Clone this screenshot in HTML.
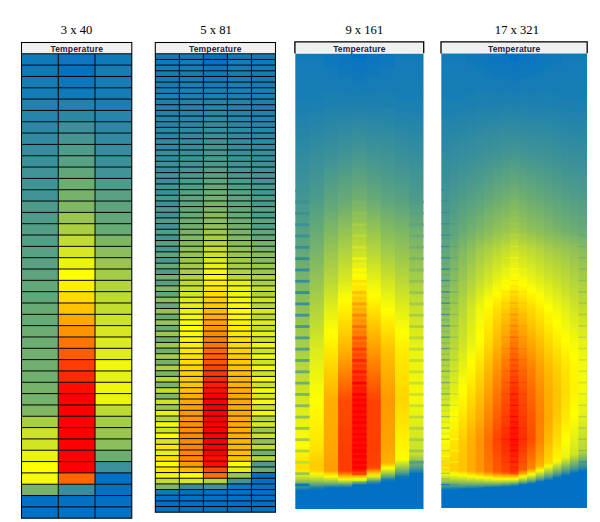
<!DOCTYPE html>
<html><head><meta charset="utf-8"><title>Heatmap grids</title><style>
html,body{margin:0;padding:0;background:#fff;width:600px;height:522px;overflow:hidden}
svg{position:absolute;left:0;top:0}
.h{font-family:"Liberation Sans",sans-serif;font-weight:bold;font-size:8.5px;letter-spacing:0.15px;fill:#23233a;text-anchor:middle}
.t{font-family:"Liberation Serif",serif;font-size:12.6px;fill:#000;stroke:#000;stroke-width:0.04px;text-anchor:middle}
</style></head><body>
<svg width="600" height="522" viewBox="0 0 600 522">
<defs><filter id="bl" x="-2%" y="-2%" width="104%" height="104%"><feGaussianBlur stdDeviation="0.3"/></filter><linearGradient id="g3_0" x1="0" y1="0" x2="0" y2="1"><stop offset="0.0031" stop-color="#117ab9"/><stop offset="0.1087" stop-color="#1a7eb2"/><stop offset="0.2950" stop-color="#3e9396"/><stop offset="0.3944" stop-color="#58a182"/><stop offset="0.4503" stop-color="#69ab74"/><stop offset="0.5373" stop-color="#89bd5c"/><stop offset="0.6615" stop-color="#add140"/><stop offset="0.8602" stop-color="#fffe00"/><stop offset="0.9037" stop-color="#ffe000"/><stop offset="0.9099" stop-color="#ffe000"/><stop offset="0.9161" stop-color="#ffe800"/><stop offset="0.9224" stop-color="#f4f909"/><stop offset="0.9348" stop-color="#acd041"/><stop offset="0.9472" stop-color="#5ba380"/><stop offset="0.9534" stop-color="#2b88a5"/><stop offset="0.9596" stop-color="#0271c5"/><stop offset="0.9969" stop-color="#0271c5"/></linearGradient>
<linearGradient id="g3_1" x1="0" y1="0" x2="0" y2="1"><stop offset="0.0031" stop-color="#117ab9"/><stop offset="0.1087" stop-color="#1a7fb2"/><stop offset="0.3199" stop-color="#4d9b8a"/><stop offset="0.4503" stop-color="#7fb764"/><stop offset="0.6553" stop-color="#ddec1a"/><stop offset="0.7609" stop-color="#ffff00"/><stop offset="0.8602" stop-color="#ffe500"/><stop offset="0.9037" stop-color="#ffcc00"/><stop offset="0.9099" stop-color="#ffcc00"/><stop offset="0.9161" stop-color="#ffd000"/><stop offset="0.9224" stop-color="#fff700"/><stop offset="0.9286" stop-color="#deec1a"/><stop offset="0.9348" stop-color="#b4d53b"/><stop offset="0.9410" stop-color="#86bb5e"/><stop offset="0.9472" stop-color="#559f85"/><stop offset="0.9534" stop-color="#197eb3"/><stop offset="0.9596" stop-color="#0271c5"/><stop offset="0.9969" stop-color="#0271c5"/></linearGradient>
<linearGradient id="g3_2" x1="0" y1="0" x2="0" y2="1"><stop offset="0.0031" stop-color="#0d77bd"/><stop offset="0.1087" stop-color="#1d80b0"/><stop offset="0.2329" stop-color="#3e9396"/><stop offset="0.3323" stop-color="#62a77a"/><stop offset="0.5000" stop-color="#bad836"/><stop offset="0.5559" stop-color="#dfed19"/><stop offset="0.6118" stop-color="#fefe01"/><stop offset="0.6242" stop-color="#fff900"/><stop offset="0.7609" stop-color="#ffad00"/><stop offset="0.8665" stop-color="#ffa700"/><stop offset="0.9037" stop-color="#ff9e00"/><stop offset="0.9161" stop-color="#ff9e00"/><stop offset="0.9286" stop-color="#fdfe02"/><stop offset="0.9348" stop-color="#c8e02b"/><stop offset="0.9410" stop-color="#8fc057"/><stop offset="0.9472" stop-color="#509d88"/><stop offset="0.9534" stop-color="#0271c5"/><stop offset="0.9969" stop-color="#0271c5"/></linearGradient>
<linearGradient id="g3_3" x1="0" y1="0" x2="0" y2="1"><stop offset="0.0031" stop-color="#0874c0"/><stop offset="0.1149" stop-color="#1f81ae"/><stop offset="0.2267" stop-color="#429593"/><stop offset="0.3261" stop-color="#6aab74"/><stop offset="0.5000" stop-color="#d9ea1e"/><stop offset="0.5373" stop-color="#fbfd03"/><stop offset="0.5435" stop-color="#fffd00"/><stop offset="0.6491" stop-color="#ffb400"/><stop offset="0.7609" stop-color="#ff4c00"/><stop offset="0.8665" stop-color="#ff3d00"/><stop offset="0.9161" stop-color="#ff3d00"/><stop offset="0.9224" stop-color="#ff7800"/><stop offset="0.9286" stop-color="#ffbe00"/><stop offset="0.9348" stop-color="#f5fa07"/><stop offset="0.9410" stop-color="#a5cd46"/><stop offset="0.9472" stop-color="#49998e"/><stop offset="0.9534" stop-color="#0271c5"/><stop offset="0.9969" stop-color="#0271c5"/></linearGradient>
<linearGradient id="g3_4" x1="0" y1="0" x2="0" y2="1"><stop offset="0.0031" stop-color="#0372c4"/><stop offset="0.1087" stop-color="#1e80b0"/><stop offset="0.2205" stop-color="#459791"/><stop offset="0.3199" stop-color="#71af6f"/><stop offset="0.4379" stop-color="#c8e02b"/><stop offset="0.4938" stop-color="#fcfd02"/><stop offset="0.5000" stop-color="#fffc00"/><stop offset="0.5559" stop-color="#ffbd00"/><stop offset="0.6491" stop-color="#ff5e00"/><stop offset="0.7609" stop-color="#ff0f00"/><stop offset="0.8913" stop-color="#ff0a00"/><stop offset="0.9099" stop-color="#ff0a00"/><stop offset="0.9161" stop-color="#ff1300"/><stop offset="0.9224" stop-color="#ff6600"/><stop offset="0.9286" stop-color="#ffbd00"/><stop offset="0.9348" stop-color="#e3ef16"/><stop offset="0.9410" stop-color="#7ab468"/><stop offset="0.9472" stop-color="#0271c5"/><stop offset="0.9969" stop-color="#0271c5"/></linearGradient>
<linearGradient id="g3_5" x1="0" y1="0" x2="0" y2="1"><stop offset="0.0031" stop-color="#0874c0"/><stop offset="0.1149" stop-color="#1f81ae"/><stop offset="0.2267" stop-color="#429593"/><stop offset="0.3199" stop-color="#67a977"/><stop offset="0.4441" stop-color="#bdda33"/><stop offset="0.5248" stop-color="#fcfd02"/><stop offset="0.5311" stop-color="#fffd00"/><stop offset="0.7112" stop-color="#ff6900"/><stop offset="0.7609" stop-color="#ff4200"/><stop offset="0.8665" stop-color="#ff3e00"/><stop offset="0.9037" stop-color="#ff4200"/><stop offset="0.9099" stop-color="#ff4900"/><stop offset="0.9224" stop-color="#ffd300"/><stop offset="0.9286" stop-color="#e1ee18"/><stop offset="0.9348" stop-color="#8fc057"/><stop offset="0.9410" stop-color="#2f8aa2"/><stop offset="0.9472" stop-color="#0271c5"/><stop offset="0.9969" stop-color="#0271c5"/></linearGradient>
<linearGradient id="g3_6" x1="0" y1="0" x2="0" y2="1"><stop offset="0.0031" stop-color="#0d77bd"/><stop offset="0.1087" stop-color="#1d80b0"/><stop offset="0.2578" stop-color="#48998e"/><stop offset="0.3261" stop-color="#60a67c"/><stop offset="0.4379" stop-color="#a3cc47"/><stop offset="0.5124" stop-color="#d9e91e"/><stop offset="0.5621" stop-color="#feff01"/><stop offset="0.6553" stop-color="#ffc000"/><stop offset="0.7609" stop-color="#ff9900"/><stop offset="0.8602" stop-color="#ffa300"/><stop offset="0.8975" stop-color="#ffb000"/><stop offset="0.9037" stop-color="#ffd000"/><stop offset="0.9099" stop-color="#ffff00"/><stop offset="0.9224" stop-color="#9ac64e"/><stop offset="0.9286" stop-color="#61a67b"/><stop offset="0.9348" stop-color="#1c80b1"/><stop offset="0.9410" stop-color="#0271c5"/><stop offset="0.9969" stop-color="#0271c5"/></linearGradient>
<linearGradient id="g3_7" x1="0" y1="0" x2="0" y2="1"><stop offset="0.0031" stop-color="#117ab9"/><stop offset="0.1087" stop-color="#1a7fb2"/><stop offset="0.2391" stop-color="#3d9297"/><stop offset="0.3261" stop-color="#5aa380"/><stop offset="0.5000" stop-color="#bad836"/><stop offset="0.5559" stop-color="#dfed19"/><stop offset="0.6118" stop-color="#fefe01"/><stop offset="0.6242" stop-color="#fff900"/><stop offset="0.6553" stop-color="#ffea00"/><stop offset="0.7609" stop-color="#ffd600"/><stop offset="0.8727" stop-color="#fff800"/><stop offset="0.8851" stop-color="#fffb00"/><stop offset="0.8913" stop-color="#fcfd02"/><stop offset="0.9099" stop-color="#94c354"/><stop offset="0.9161" stop-color="#6ead71"/><stop offset="0.9224" stop-color="#449691"/><stop offset="0.9286" stop-color="#117ab9"/><stop offset="0.9348" stop-color="#0271c5"/><stop offset="0.9969" stop-color="#0271c5"/></linearGradient>
<linearGradient id="g3_8" x1="0" y1="0" x2="0" y2="1"><stop offset="0.0031" stop-color="#117ab9"/><stop offset="0.1087" stop-color="#1a7fb2"/><stop offset="0.3199" stop-color="#4d9b8a"/><stop offset="0.4814" stop-color="#a0ca4a"/><stop offset="0.5435" stop-color="#c3dd2f"/><stop offset="0.6553" stop-color="#ebf40f"/><stop offset="0.7609" stop-color="#f5f908"/><stop offset="0.8665" stop-color="#cbe229"/><stop offset="0.8789" stop-color="#c8e02b"/><stop offset="0.8913" stop-color="#99c650"/><stop offset="0.9099" stop-color="#49998e"/><stop offset="0.9161" stop-color="#2a87a6"/><stop offset="0.9224" stop-color="#0271c5"/><stop offset="0.9969" stop-color="#0271c5"/></linearGradient>
<linearGradient id="g4_0" x1="0" y1="0" x2="0" y2="1"><stop offset="0.0016" stop-color="#117ab9"/><stop offset="0.1106" stop-color="#1a7fb2"/><stop offset="0.3162" stop-color="#429593"/><stop offset="0.4034" stop-color="#58a182"/><stop offset="0.6121" stop-color="#9ac64f"/><stop offset="0.6620" stop-color="#aacf42"/><stop offset="0.7150" stop-color="#bbd935"/><stop offset="0.7430" stop-color="#c4de2e"/><stop offset="0.8022" stop-color="#e9f211"/><stop offset="0.8489" stop-color="#feff01"/><stop offset="0.9081" stop-color="#ffd600"/><stop offset="0.9143" stop-color="#ffd600"/><stop offset="0.9174" stop-color="#ffdd00"/><stop offset="0.9237" stop-color="#fefe01"/><stop offset="0.9393" stop-color="#a1ca49"/><stop offset="0.9486" stop-color="#62a77a"/><stop offset="0.9548" stop-color="#328c9f"/><stop offset="0.9579" stop-color="#157cb6"/><stop offset="0.9611" stop-color="#0271c5"/><stop offset="0.9984" stop-color="#0271c5"/></linearGradient>
<linearGradient id="g4_1" x1="0" y1="0" x2="0" y2="1"><stop offset="0.0016" stop-color="#117ab9"/><stop offset="0.1106" stop-color="#1a7fb2"/><stop offset="0.2882" stop-color="#419494"/><stop offset="0.3941" stop-color="#5fa57c"/><stop offset="0.4439" stop-color="#75b26b"/><stop offset="0.5187" stop-color="#90c156"/><stop offset="0.5717" stop-color="#a5cc46"/><stop offset="0.6402" stop-color="#bad836"/><stop offset="0.7430" stop-color="#e2ef17"/><stop offset="0.7960" stop-color="#ffff00"/><stop offset="0.9081" stop-color="#ffcc00"/><stop offset="0.9174" stop-color="#ffce00"/><stop offset="0.9237" stop-color="#fff300"/><stop offset="0.9268" stop-color="#f8fb05"/><stop offset="0.9393" stop-color="#a8ce44"/><stop offset="0.9486" stop-color="#64a878"/><stop offset="0.9517" stop-color="#4c9a8c"/><stop offset="0.9548" stop-color="#308ba1"/><stop offset="0.9579" stop-color="#0f79bb"/><stop offset="0.9611" stop-color="#0271c5"/><stop offset="0.9984" stop-color="#0271c5"/></linearGradient>
<linearGradient id="g4_2" x1="0" y1="0" x2="0" y2="1"><stop offset="0.0016" stop-color="#117ab9"/><stop offset="0.1106" stop-color="#1a7fb2"/><stop offset="0.2601" stop-color="#3e9396"/><stop offset="0.3224" stop-color="#509d88"/><stop offset="0.3941" stop-color="#6aab74"/><stop offset="0.4408" stop-color="#84ba60"/><stop offset="0.5125" stop-color="#a0ca4a"/><stop offset="0.5654" stop-color="#bad836"/><stop offset="0.6371" stop-color="#cfe425"/><stop offset="0.7399" stop-color="#ffff00"/><stop offset="0.8551" stop-color="#ffcb00"/><stop offset="0.9112" stop-color="#ffc200"/><stop offset="0.9174" stop-color="#ffc200"/><stop offset="0.9206" stop-color="#ffd100"/><stop offset="0.9268" stop-color="#fffa00"/><stop offset="0.9299" stop-color="#f0f60c"/><stop offset="0.9424" stop-color="#98c551"/><stop offset="0.9486" stop-color="#66a977"/><stop offset="0.9548" stop-color="#2e8aa3"/><stop offset="0.9579" stop-color="#0874c0"/><stop offset="0.9611" stop-color="#0271c5"/><stop offset="0.9984" stop-color="#0271c5"/></linearGradient>
<linearGradient id="g4_3" x1="0" y1="0" x2="0" y2="1"><stop offset="0.0016" stop-color="#0f78bb"/><stop offset="0.1075" stop-color="#1b7fb1"/><stop offset="0.2383" stop-color="#3c9198"/><stop offset="0.3162" stop-color="#549f85"/><stop offset="0.3910" stop-color="#73b06d"/><stop offset="0.4377" stop-color="#92c255"/><stop offset="0.5125" stop-color="#b6d639"/><stop offset="0.5623" stop-color="#d4e721"/><stop offset="0.6340" stop-color="#e7f212"/><stop offset="0.6807" stop-color="#ffff00"/><stop offset="0.8520" stop-color="#ffb000"/><stop offset="0.9174" stop-color="#ffab00"/><stop offset="0.9206" stop-color="#ffb900"/><stop offset="0.9299" stop-color="#fffd00"/><stop offset="0.9330" stop-color="#e9f311"/><stop offset="0.9424" stop-color="#9ec94b"/><stop offset="0.9486" stop-color="#67aa76"/><stop offset="0.9517" stop-color="#48988e"/><stop offset="0.9579" stop-color="#0271c5"/><stop offset="0.9984" stop-color="#0271c5"/></linearGradient>
<linearGradient id="g4_4" x1="0" y1="0" x2="0" y2="1"><stop offset="0.0016" stop-color="#0c77bd"/><stop offset="0.1168" stop-color="#1f81af"/><stop offset="0.2352" stop-color="#3e9396"/><stop offset="0.3100" stop-color="#57a183"/><stop offset="0.3910" stop-color="#7db665"/><stop offset="0.4346" stop-color="#a0ca4a"/><stop offset="0.5031" stop-color="#c5df2d"/><stop offset="0.5592" stop-color="#eff60d"/><stop offset="0.6308" stop-color="#ffff00"/><stop offset="0.6931" stop-color="#ffdd00"/><stop offset="0.8520" stop-color="#ff9400"/><stop offset="0.9174" stop-color="#ff9400"/><stop offset="0.9206" stop-color="#ffa000"/><stop offset="0.9299" stop-color="#ffec00"/><stop offset="0.9330" stop-color="#f8fb06"/><stop offset="0.9424" stop-color="#a4cc47"/><stop offset="0.9486" stop-color="#66a977"/><stop offset="0.9517" stop-color="#439593"/><stop offset="0.9548" stop-color="#197eb3"/><stop offset="0.9579" stop-color="#0271c5"/><stop offset="0.9984" stop-color="#0271c5"/></linearGradient>
<linearGradient id="g4_5" x1="0" y1="0" x2="0" y2="1"><stop offset="0.0016" stop-color="#0a75bf"/><stop offset="0.1137" stop-color="#1e81af"/><stop offset="0.2259" stop-color="#3e9396"/><stop offset="0.3131" stop-color="#60a67b"/><stop offset="0.3910" stop-color="#87bc5d"/><stop offset="0.4346" stop-color="#acd140"/><stop offset="0.5062" stop-color="#daea1d"/><stop offset="0.5498" stop-color="#fefe01"/><stop offset="0.5561" stop-color="#fffb00"/><stop offset="0.5748" stop-color="#fff200"/><stop offset="0.6340" stop-color="#ffdc00"/><stop offset="0.7025" stop-color="#ffb400"/><stop offset="0.8520" stop-color="#ff6b00"/><stop offset="0.9081" stop-color="#ff7500"/><stop offset="0.9174" stop-color="#ff7500"/><stop offset="0.9206" stop-color="#ff7f00"/><stop offset="0.9330" stop-color="#fff200"/><stop offset="0.9361" stop-color="#edf50e"/><stop offset="0.9455" stop-color="#8abd5b"/><stop offset="0.9517" stop-color="#3b9198"/><stop offset="0.9548" stop-color="#0673c2"/><stop offset="0.9579" stop-color="#0271c5"/><stop offset="0.9984" stop-color="#0271c5"/></linearGradient>
<linearGradient id="g4_6" x1="0" y1="0" x2="0" y2="1"><stop offset="0.0016" stop-color="#0774c1"/><stop offset="0.1168" stop-color="#1f81ae"/><stop offset="0.2196" stop-color="#3f9396"/><stop offset="0.3162" stop-color="#6aab74"/><stop offset="0.3910" stop-color="#91c255"/><stop offset="0.4346" stop-color="#b9d836"/><stop offset="0.5000" stop-color="#e7f113"/><stop offset="0.5280" stop-color="#fffe00"/><stop offset="0.5623" stop-color="#ffdf00"/><stop offset="0.6402" stop-color="#ffb700"/><stop offset="0.6994" stop-color="#ff9100"/><stop offset="0.7586" stop-color="#ff7200"/><stop offset="0.8115" stop-color="#ff5800"/><stop offset="0.8489" stop-color="#ff4300"/><stop offset="0.9019" stop-color="#ff5500"/><stop offset="0.9143" stop-color="#ff5700"/><stop offset="0.9174" stop-color="#ff5700"/><stop offset="0.9206" stop-color="#ff5d00"/><stop offset="0.9299" stop-color="#ffbd00"/><stop offset="0.9330" stop-color="#ffdf00"/><stop offset="0.9361" stop-color="#fcfd02"/><stop offset="0.9424" stop-color="#b3d43b"/><stop offset="0.9486" stop-color="#60a67b"/><stop offset="0.9548" stop-color="#0271c5"/><stop offset="0.9984" stop-color="#0271c5"/></linearGradient>
<linearGradient id="g4_7" x1="0" y1="0" x2="0" y2="1"><stop offset="0.0016" stop-color="#0573c3"/><stop offset="0.1106" stop-color="#1e81af"/><stop offset="0.2196" stop-color="#429593"/><stop offset="0.3162" stop-color="#6fae70"/><stop offset="0.3910" stop-color="#99c64f"/><stop offset="0.4346" stop-color="#c3de2e"/><stop offset="0.5000" stop-color="#f3f909"/><stop offset="0.5125" stop-color="#fffe00"/><stop offset="0.5654" stop-color="#ffcb00"/><stop offset="0.6963" stop-color="#ff7100"/><stop offset="0.7461" stop-color="#ff5500"/><stop offset="0.8115" stop-color="#ff3b00"/><stop offset="0.8520" stop-color="#ff2900"/><stop offset="0.9050" stop-color="#ff4200"/><stop offset="0.9174" stop-color="#ff4200"/><stop offset="0.9206" stop-color="#ff4a00"/><stop offset="0.9299" stop-color="#ffb400"/><stop offset="0.9361" stop-color="#fefe01"/><stop offset="0.9424" stop-color="#acd041"/><stop offset="0.9455" stop-color="#7fb763"/><stop offset="0.9486" stop-color="#4e9c8a"/><stop offset="0.9517" stop-color="#117ab9"/><stop offset="0.9548" stop-color="#0271c5"/><stop offset="0.9984" stop-color="#0271c5"/></linearGradient>
<linearGradient id="g4_8" x1="0" y1="0" x2="0" y2="1"><stop offset="0.0016" stop-color="#0271c5"/><stop offset="0.1199" stop-color="#2182ad"/><stop offset="0.2196" stop-color="#449691"/><stop offset="0.3131" stop-color="#73b16d"/><stop offset="0.3910" stop-color="#a1ca49"/><stop offset="0.4377" stop-color="#d0e525"/><stop offset="0.5000" stop-color="#fffe00"/><stop offset="0.5654" stop-color="#ffb800"/><stop offset="0.6371" stop-color="#ff7b00"/><stop offset="0.6994" stop-color="#ff4e00"/><stop offset="0.7461" stop-color="#ff3100"/><stop offset="0.8115" stop-color="#ff1e00"/><stop offset="0.8520" stop-color="#ff1000"/><stop offset="0.9050" stop-color="#ff2e00"/><stop offset="0.9174" stop-color="#ff2e00"/><stop offset="0.9206" stop-color="#ff3700"/><stop offset="0.9330" stop-color="#ffd600"/><stop offset="0.9361" stop-color="#fdfe02"/><stop offset="0.9424" stop-color="#a2cb49"/><stop offset="0.9455" stop-color="#6fae70"/><stop offset="0.9486" stop-color="#358d9e"/><stop offset="0.9517" stop-color="#0271c5"/><stop offset="0.9984" stop-color="#0271c5"/></linearGradient>
<linearGradient id="g4_9" x1="0" y1="0" x2="0" y2="1"><stop offset="0.0016" stop-color="#0573c3"/><stop offset="0.1106" stop-color="#1e81af"/><stop offset="0.2196" stop-color="#429593"/><stop offset="0.3162" stop-color="#6fae70"/><stop offset="0.3910" stop-color="#99c64f"/><stop offset="0.4346" stop-color="#c6df2c"/><stop offset="0.5031" stop-color="#f9fc05"/><stop offset="0.5093" stop-color="#ffff00"/><stop offset="0.5654" stop-color="#ffc800"/><stop offset="0.6900" stop-color="#ff6b00"/><stop offset="0.7461" stop-color="#ff4d00"/><stop offset="0.8489" stop-color="#ff2e00"/><stop offset="0.9081" stop-color="#ff5700"/><stop offset="0.9143" stop-color="#ff5700"/><stop offset="0.9174" stop-color="#ff6600"/><stop offset="0.9268" stop-color="#ffcc00"/><stop offset="0.9299" stop-color="#fff000"/><stop offset="0.9330" stop-color="#e9f311"/><stop offset="0.9393" stop-color="#9ac74e"/><stop offset="0.9424" stop-color="#6fae70"/><stop offset="0.9455" stop-color="#3f9396"/><stop offset="0.9486" stop-color="#0271c5"/><stop offset="0.9984" stop-color="#0271c5"/></linearGradient>
<linearGradient id="g4_10" x1="0" y1="0" x2="0" y2="1"><stop offset="0.0016" stop-color="#0774c1"/><stop offset="0.1168" stop-color="#1f81ae"/><stop offset="0.2196" stop-color="#3f9396"/><stop offset="0.3162" stop-color="#6aab74"/><stop offset="0.3879" stop-color="#8fc057"/><stop offset="0.4346" stop-color="#bedb32"/><stop offset="0.5000" stop-color="#ecf40f"/><stop offset="0.5218" stop-color="#ffff00"/><stop offset="0.5623" stop-color="#ffda00"/><stop offset="0.6464" stop-color="#ffa200"/><stop offset="0.6869" stop-color="#ff8400"/><stop offset="0.7492" stop-color="#ff6800"/><stop offset="0.8084" stop-color="#ff5400"/><stop offset="0.8489" stop-color="#ff4d00"/><stop offset="0.8676" stop-color="#ff5c00"/><stop offset="0.9050" stop-color="#ff7f00"/><stop offset="0.9112" stop-color="#ff8000"/><stop offset="0.9143" stop-color="#ff9200"/><stop offset="0.9237" stop-color="#ffea00"/><stop offset="0.9268" stop-color="#f5f908"/><stop offset="0.9330" stop-color="#b4d53b"/><stop offset="0.9393" stop-color="#6cad72"/><stop offset="0.9424" stop-color="#449692"/><stop offset="0.9455" stop-color="#127ab8"/><stop offset="0.9486" stop-color="#0271c5"/><stop offset="0.9984" stop-color="#0271c5"/></linearGradient>
<linearGradient id="g4_11" x1="0" y1="0" x2="0" y2="1"><stop offset="0.0016" stop-color="#0a75bf"/><stop offset="0.1137" stop-color="#1e81af"/><stop offset="0.2290" stop-color="#419494"/><stop offset="0.3162" stop-color="#64a878"/><stop offset="0.3910" stop-color="#8abd5b"/><stop offset="0.4346" stop-color="#b4d53a"/><stop offset="0.5062" stop-color="#e4f015"/><stop offset="0.5374" stop-color="#fefe01"/><stop offset="0.5436" stop-color="#fffb00"/><stop offset="0.5685" stop-color="#ffe800"/><stop offset="0.6464" stop-color="#ffba00"/><stop offset="0.6900" stop-color="#ff9f00"/><stop offset="0.7523" stop-color="#ff8a00"/><stop offset="0.7991" stop-color="#ff8000"/><stop offset="0.8520" stop-color="#ff8300"/><stop offset="0.9050" stop-color="#ffad00"/><stop offset="0.9081" stop-color="#ffb700"/><stop offset="0.9174" stop-color="#fefe01"/><stop offset="0.9268" stop-color="#afd23f"/><stop offset="0.9330" stop-color="#74b16c"/><stop offset="0.9361" stop-color="#559f85"/><stop offset="0.9393" stop-color="#318ba0"/><stop offset="0.9424" stop-color="#0271c5"/><stop offset="0.9984" stop-color="#0271c5"/></linearGradient>
<linearGradient id="g4_12" x1="0" y1="0" x2="0" y2="1"><stop offset="0.0016" stop-color="#0c77bd"/><stop offset="0.1137" stop-color="#1e81af"/><stop offset="0.2383" stop-color="#429593"/><stop offset="0.3162" stop-color="#5fa57d"/><stop offset="0.3910" stop-color="#82b961"/><stop offset="0.4346" stop-color="#aacf42"/><stop offset="0.5125" stop-color="#dbeb1c"/><stop offset="0.5592" stop-color="#fefe01"/><stop offset="0.6215" stop-color="#ffe000"/><stop offset="0.6900" stop-color="#ffbb00"/><stop offset="0.7461" stop-color="#ffad00"/><stop offset="0.7991" stop-color="#ffa900"/><stop offset="0.8520" stop-color="#ffb900"/><stop offset="0.8988" stop-color="#ffd700"/><stop offset="0.9019" stop-color="#ffdb00"/><stop offset="0.9050" stop-color="#fff100"/><stop offset="0.9081" stop-color="#f8fb05"/><stop offset="0.9174" stop-color="#bad836"/><stop offset="0.9268" stop-color="#75b16c"/><stop offset="0.9330" stop-color="#409495"/><stop offset="0.9393" stop-color="#0271c5"/><stop offset="0.9984" stop-color="#0271c5"/></linearGradient>
<linearGradient id="g4_13" x1="0" y1="0" x2="0" y2="1"><stop offset="0.0016" stop-color="#0f78bb"/><stop offset="0.1075" stop-color="#1b7fb1"/><stop offset="0.2352" stop-color="#3e9396"/><stop offset="0.3162" stop-color="#59a281"/><stop offset="0.3879" stop-color="#78b369"/><stop offset="0.4377" stop-color="#a4cc47"/><stop offset="0.5249" stop-color="#d8e91e"/><stop offset="0.5685" stop-color="#f4f909"/><stop offset="0.5935" stop-color="#ffff00"/><stop offset="0.6931" stop-color="#ffcf00"/><stop offset="0.7430" stop-color="#ffc400"/><stop offset="0.7991" stop-color="#ffc800"/><stop offset="0.8551" stop-color="#ffde00"/><stop offset="0.8925" stop-color="#fff500"/><stop offset="0.8956" stop-color="#fffa00"/><stop offset="0.8988" stop-color="#f1f70b"/><stop offset="0.9174" stop-color="#81b862"/><stop offset="0.9237" stop-color="#58a182"/><stop offset="0.9299" stop-color="#2887a7"/><stop offset="0.9330" stop-color="#0a75bf"/><stop offset="0.9361" stop-color="#0271c5"/><stop offset="0.9984" stop-color="#0271c5"/></linearGradient>
<linearGradient id="g4_14" x1="0" y1="0" x2="0" y2="1"><stop offset="0.0016" stop-color="#117ab9"/><stop offset="0.1075" stop-color="#1a7eb2"/><stop offset="0.2414" stop-color="#3d9297"/><stop offset="0.3162" stop-color="#549f85"/><stop offset="0.3910" stop-color="#73b06d"/><stop offset="0.4346" stop-color="#9bc74e"/><stop offset="0.5312" stop-color="#d0e425"/><stop offset="0.5717" stop-color="#e5f114"/><stop offset="0.6308" stop-color="#ffff00"/><stop offset="0.6869" stop-color="#ffe500"/><stop offset="0.7430" stop-color="#ffdc00"/><stop offset="0.7991" stop-color="#ffe700"/><stop offset="0.8520" stop-color="#feff01"/><stop offset="0.8863" stop-color="#ebf40f"/><stop offset="0.8894" stop-color="#e5f114"/><stop offset="0.9174" stop-color="#529e87"/><stop offset="0.9237" stop-color="#2b88a5"/><stop offset="0.9268" stop-color="#147bb7"/><stop offset="0.9299" stop-color="#0271c5"/><stop offset="0.9984" stop-color="#0271c5"/></linearGradient>
<linearGradient id="g4_15" x1="0" y1="0" x2="0" y2="1"><stop offset="0.0016" stop-color="#117ab9"/><stop offset="0.1075" stop-color="#1a7eb2"/><stop offset="0.2477" stop-color="#3d9297"/><stop offset="0.3131" stop-color="#509d88"/><stop offset="0.3910" stop-color="#6eae71"/><stop offset="0.4377" stop-color="#95c353"/><stop offset="0.6308" stop-color="#f2f80a"/><stop offset="0.6682" stop-color="#fffe00"/><stop offset="0.6900" stop-color="#fff700"/><stop offset="0.7430" stop-color="#fff300"/><stop offset="0.7960" stop-color="#ffff00"/><stop offset="0.8801" stop-color="#d2e623"/><stop offset="0.8832" stop-color="#cbe228"/><stop offset="0.9112" stop-color="#4c9b8b"/><stop offset="0.9174" stop-color="#2c89a4"/><stop offset="0.9206" stop-color="#1a7fb2"/><stop offset="0.9237" stop-color="#0271c5"/><stop offset="0.9984" stop-color="#0271c5"/></linearGradient>
<linearGradient id="g4_16" x1="0" y1="0" x2="0" y2="1"><stop offset="0.0016" stop-color="#117ab9"/><stop offset="0.1106" stop-color="#1a7fb2"/><stop offset="0.2601" stop-color="#3e9396"/><stop offset="0.3224" stop-color="#509d88"/><stop offset="0.3910" stop-color="#69ab75"/><stop offset="0.4377" stop-color="#8dbf59"/><stop offset="0.5405" stop-color="#bad836"/><stop offset="0.6215" stop-color="#e1ee17"/><stop offset="0.6402" stop-color="#e8f212"/><stop offset="0.6900" stop-color="#f5f908"/><stop offset="0.7430" stop-color="#f4f908"/><stop offset="0.7991" stop-color="#e3f015"/><stop offset="0.8551" stop-color="#c0dc31"/><stop offset="0.8738" stop-color="#b8d738"/><stop offset="0.8769" stop-color="#b1d33d"/><stop offset="0.9050" stop-color="#459691"/><stop offset="0.9143" stop-color="#1d80b0"/><stop offset="0.9174" stop-color="#0c76bd"/><stop offset="0.9206" stop-color="#0271c5"/><stop offset="0.9984" stop-color="#0271c5"/></linearGradient></defs>
<g filter="url(#bl)">
<rect x="21.50" y="53.80" width="36.82" height="11.38" fill="#117ab9"/>
<rect x="58.27" y="53.80" width="36.82" height="11.38" fill="#0774c1"/>
<rect x="95.03" y="53.80" width="36.82" height="11.38" fill="#117ab9"/>
<rect x="21.50" y="65.13" width="36.82" height="11.38" fill="#117ab9"/>
<rect x="58.27" y="65.13" width="36.82" height="11.38" fill="#0271c5"/>
<rect x="95.03" y="65.13" width="36.82" height="11.38" fill="#167cb5"/>
<rect x="21.50" y="76.45" width="36.82" height="11.38" fill="#167cb5"/>
<rect x="58.27" y="76.45" width="36.82" height="11.38" fill="#0c77bd"/>
<rect x="95.03" y="76.45" width="36.82" height="11.38" fill="#167cb5"/>
<rect x="21.50" y="87.78" width="36.82" height="11.38" fill="#167cb5"/>
<rect x="58.27" y="87.78" width="36.82" height="11.38" fill="#117ab9"/>
<rect x="95.03" y="87.78" width="36.82" height="11.38" fill="#167cb5"/>
<rect x="21.50" y="99.11" width="36.82" height="11.38" fill="#2082ad"/>
<rect x="58.27" y="99.11" width="36.82" height="11.38" fill="#2082ad"/>
<rect x="95.03" y="99.11" width="36.82" height="11.38" fill="#1b7fb1"/>
<rect x="21.50" y="110.43" width="36.82" height="11.38" fill="#2585a9"/>
<rect x="58.27" y="110.43" width="36.82" height="11.38" fill="#2a88a5"/>
<rect x="95.03" y="110.43" width="36.82" height="11.38" fill="#2585a9"/>
<rect x="21.50" y="121.76" width="36.82" height="11.38" fill="#2a88a5"/>
<rect x="58.27" y="121.76" width="36.82" height="11.38" fill="#3a909a"/>
<rect x="95.03" y="121.76" width="36.82" height="11.38" fill="#2a88a5"/>
<rect x="21.50" y="133.09" width="36.82" height="11.38" fill="#308ba2"/>
<rect x="58.27" y="133.09" width="36.82" height="11.38" fill="#449692"/>
<rect x="95.03" y="133.09" width="36.82" height="11.38" fill="#308ba2"/>
<rect x="21.50" y="144.41" width="36.82" height="11.38" fill="#358d9e"/>
<rect x="58.27" y="144.41" width="36.82" height="11.38" fill="#4e9c8a"/>
<rect x="95.03" y="144.41" width="36.82" height="11.38" fill="#358d9e"/>
<rect x="21.50" y="155.74" width="36.82" height="11.38" fill="#3a909a"/>
<rect x="58.27" y="155.74" width="36.82" height="11.38" fill="#58a182"/>
<rect x="95.03" y="155.74" width="36.82" height="11.38" fill="#3a909a"/>
<rect x="21.50" y="167.07" width="36.82" height="11.38" fill="#3f9396"/>
<rect x="58.27" y="167.07" width="36.82" height="11.38" fill="#62a77a"/>
<rect x="95.03" y="167.07" width="36.82" height="11.38" fill="#3f9396"/>
<rect x="21.50" y="178.40" width="36.82" height="11.38" fill="#3f9396"/>
<rect x="58.27" y="178.40" width="36.82" height="11.38" fill="#6cad72"/>
<rect x="95.03" y="178.40" width="36.82" height="11.38" fill="#4e9c8a"/>
<rect x="21.50" y="189.72" width="36.82" height="11.38" fill="#3f9396"/>
<rect x="58.27" y="189.72" width="36.82" height="11.38" fill="#76b26a"/>
<rect x="95.03" y="189.72" width="36.82" height="11.38" fill="#58a182"/>
<rect x="21.50" y="201.05" width="36.82" height="11.38" fill="#4e9c8a"/>
<rect x="58.27" y="201.05" width="36.82" height="11.38" fill="#80b862"/>
<rect x="95.03" y="201.05" width="36.82" height="11.38" fill="#5da47e"/>
<rect x="21.50" y="212.38" width="36.82" height="11.38" fill="#4e9c8a"/>
<rect x="58.27" y="212.38" width="36.82" height="11.38" fill="#9ac64f"/>
<rect x="95.03" y="212.38" width="36.82" height="11.38" fill="#62a77a"/>
<rect x="21.50" y="223.70" width="36.82" height="11.38" fill="#539e86"/>
<rect x="58.27" y="223.70" width="36.82" height="11.38" fill="#a9cf43"/>
<rect x="95.03" y="223.70" width="36.82" height="11.38" fill="#67aa76"/>
<rect x="21.50" y="235.03" width="36.82" height="11.38" fill="#539e86"/>
<rect x="58.27" y="235.03" width="36.82" height="11.38" fill="#c2dd2f"/>
<rect x="95.03" y="235.03" width="36.82" height="11.38" fill="#7bb566"/>
<rect x="21.50" y="246.36" width="36.82" height="11.38" fill="#58a182"/>
<rect x="58.27" y="246.36" width="36.82" height="11.38" fill="#d7e820"/>
<rect x="95.03" y="246.36" width="36.82" height="11.38" fill="#8bbe5b"/>
<rect x="21.50" y="257.68" width="36.82" height="11.38" fill="#58a182"/>
<rect x="58.27" y="257.68" width="36.82" height="11.38" fill="#ebf410"/>
<rect x="95.03" y="257.68" width="36.82" height="11.38" fill="#9ac64f"/>
<rect x="21.50" y="269.01" width="36.82" height="11.38" fill="#5da47e"/>
<rect x="58.27" y="269.01" width="36.82" height="11.38" fill="#ffff00"/>
<rect x="95.03" y="269.01" width="36.82" height="11.38" fill="#a4cc47"/>
<rect x="21.50" y="280.34" width="36.82" height="11.38" fill="#62a77a"/>
<rect x="58.27" y="280.34" width="36.82" height="11.38" fill="#fff000"/>
<rect x="95.03" y="280.34" width="36.82" height="11.38" fill="#b3d43b"/>
<rect x="21.50" y="291.66" width="36.82" height="11.38" fill="#62a77a"/>
<rect x="58.27" y="291.66" width="36.82" height="11.38" fill="#ffdb00"/>
<rect x="95.03" y="291.66" width="36.82" height="11.38" fill="#bdda33"/>
<rect x="21.50" y="302.99" width="36.82" height="11.38" fill="#67aa76"/>
<rect x="58.27" y="302.99" width="36.82" height="11.38" fill="#ffc200"/>
<rect x="95.03" y="302.99" width="36.82" height="11.38" fill="#c2dd2f"/>
<rect x="21.50" y="314.32" width="36.82" height="11.38" fill="#67aa76"/>
<rect x="58.27" y="314.32" width="36.82" height="11.38" fill="#ffa800"/>
<rect x="95.03" y="314.32" width="36.82" height="11.38" fill="#cce327"/>
<rect x="21.50" y="325.64" width="36.82" height="11.38" fill="#6cad72"/>
<rect x="58.27" y="325.64" width="36.82" height="11.38" fill="#ff9400"/>
<rect x="95.03" y="325.64" width="36.82" height="11.38" fill="#d7e820"/>
<rect x="21.50" y="336.97" width="36.82" height="11.38" fill="#6cad72"/>
<rect x="58.27" y="336.97" width="36.82" height="11.38" fill="#ff7500"/>
<rect x="95.03" y="336.97" width="36.82" height="11.38" fill="#dceb1c"/>
<rect x="21.50" y="348.30" width="36.82" height="11.38" fill="#71af6e"/>
<rect x="58.27" y="348.30" width="36.82" height="11.38" fill="#ff5c00"/>
<rect x="95.03" y="348.30" width="36.82" height="11.38" fill="#e1ee18"/>
<rect x="21.50" y="359.62" width="36.82" height="11.38" fill="#71af6e"/>
<rect x="58.27" y="359.62" width="36.82" height="11.38" fill="#ff3d00"/>
<rect x="95.03" y="359.62" width="36.82" height="11.38" fill="#f0f60c"/>
<rect x="21.50" y="370.95" width="36.82" height="11.38" fill="#71af6e"/>
<rect x="58.27" y="370.95" width="36.82" height="11.38" fill="#ff2900"/>
<rect x="95.03" y="370.95" width="36.82" height="11.38" fill="#e6f114"/>
<rect x="21.50" y="382.28" width="36.82" height="11.38" fill="#76b26a"/>
<rect x="58.27" y="382.28" width="36.82" height="11.38" fill="#ff0f00"/>
<rect x="95.03" y="382.28" width="36.82" height="11.38" fill="#f0f60c"/>
<rect x="21.50" y="393.60" width="36.82" height="11.38" fill="#76b26a"/>
<rect x="58.27" y="393.60" width="36.82" height="11.38" fill="#ff0000"/>
<rect x="95.03" y="393.60" width="36.82" height="11.38" fill="#ebf410"/>
<rect x="21.50" y="404.93" width="36.82" height="11.38" fill="#80b862"/>
<rect x="58.27" y="404.93" width="36.82" height="11.38" fill="#ff0000"/>
<rect x="95.03" y="404.93" width="36.82" height="11.38" fill="#bdda33"/>
<rect x="21.50" y="416.26" width="36.82" height="11.38" fill="#a9cf43"/>
<rect x="58.27" y="416.26" width="36.82" height="11.38" fill="#ff0000"/>
<rect x="95.03" y="416.26" width="36.82" height="11.38" fill="#a4cc47"/>
<rect x="21.50" y="427.59" width="36.82" height="11.38" fill="#cce327"/>
<rect x="58.27" y="427.59" width="36.82" height="11.38" fill="#ff0000"/>
<rect x="95.03" y="427.59" width="36.82" height="11.38" fill="#9ac64f"/>
<rect x="21.50" y="438.91" width="36.82" height="11.38" fill="#d1e523"/>
<rect x="58.27" y="438.91" width="36.82" height="11.38" fill="#ff0000"/>
<rect x="95.03" y="438.91" width="36.82" height="11.38" fill="#8bbe5b"/>
<rect x="21.50" y="450.24" width="36.82" height="11.38" fill="#ebf410"/>
<rect x="58.27" y="450.24" width="36.82" height="11.38" fill="#ff0000"/>
<rect x="95.03" y="450.24" width="36.82" height="11.38" fill="#6cad72"/>
<rect x="21.50" y="461.57" width="36.82" height="11.38" fill="#ffff00"/>
<rect x="58.27" y="461.57" width="36.82" height="11.38" fill="#ff0000"/>
<rect x="95.03" y="461.57" width="36.82" height="11.38" fill="#3a909a"/>
<rect x="21.50" y="472.89" width="36.82" height="11.38" fill="#f5f908"/>
<rect x="58.27" y="472.89" width="36.82" height="11.38" fill="#ff6600"/>
<rect x="95.03" y="472.89" width="36.82" height="11.38" fill="#0271c5"/>
<rect x="21.50" y="484.22" width="36.82" height="11.38" fill="#76b26a"/>
<rect x="58.27" y="484.22" width="36.82" height="11.38" fill="#358d9e"/>
<rect x="95.03" y="484.22" width="36.82" height="11.38" fill="#0271c5"/>
<rect x="21.50" y="495.55" width="36.82" height="11.38" fill="#0271c5"/>
<rect x="58.27" y="495.55" width="36.82" height="11.38" fill="#0271c5"/>
<rect x="95.03" y="495.55" width="36.82" height="11.38" fill="#0271c5"/>
<rect x="21.50" y="506.87" width="36.82" height="11.38" fill="#0271c5"/>
<rect x="58.27" y="506.87" width="36.82" height="11.38" fill="#0271c5"/>
<rect x="95.03" y="506.87" width="36.82" height="11.38" fill="#0271c5"/>
<path d="M21.50 65.13H131.80M21.50 76.45H131.80M21.50 87.78H131.80M21.50 99.11H131.80M21.50 110.43H131.80M21.50 121.76H131.80M21.50 133.09H131.80M21.50 144.41H131.80M21.50 155.74H131.80M21.50 167.07H131.80M21.50 178.40H131.80M21.50 189.72H131.80M21.50 201.05H131.80M21.50 212.38H131.80M21.50 223.70H131.80M21.50 235.03H131.80M21.50 246.36H131.80M21.50 257.68H131.80M21.50 269.01H131.80M21.50 280.34H131.80M21.50 291.66H131.80M21.50 302.99H131.80M21.50 314.32H131.80M21.50 325.64H131.80M21.50 336.97H131.80M21.50 348.30H131.80M21.50 359.62H131.80M21.50 370.95H131.80M21.50 382.28H131.80M21.50 393.60H131.80M21.50 404.93H131.80M21.50 416.26H131.80M21.50 427.59H131.80M21.50 438.91H131.80M21.50 450.24H131.80M21.50 461.57H131.80M21.50 472.89H131.80M21.50 484.22H131.80M21.50 495.55H131.80M21.50 506.87H131.80M58.27 53.80V518.20M95.03 53.80V518.20" stroke="#000" stroke-width="1.00" fill="none"/>
<rect x="21.50" y="42.50" width="110.30" height="11.30" fill="#f0f0f0"/>
<path d="M21.50 53.80H131.80" stroke="#000" stroke-width="1.1"/>
<rect x="21.50" y="42.50" width="110.30" height="475.70" fill="none" stroke="#000" stroke-width="1.05"/>
<rect x="155.30" y="53.80" width="24.09" height="5.71" fill="#117ab9"/>
<rect x="179.34" y="53.80" width="24.09" height="5.71" fill="#117ab9"/>
<rect x="203.38" y="53.80" width="24.09" height="5.71" fill="#0271c5"/>
<rect x="227.42" y="53.80" width="24.09" height="5.71" fill="#117ab9"/>
<rect x="251.46" y="53.80" width="24.09" height="5.71" fill="#117ab9"/>
<rect x="155.30" y="59.46" width="24.09" height="5.71" fill="#117ab9"/>
<rect x="179.34" y="59.46" width="24.09" height="5.71" fill="#137bb8"/>
<rect x="203.38" y="59.46" width="24.09" height="5.71" fill="#0673c2"/>
<rect x="227.42" y="59.46" width="24.09" height="5.71" fill="#137bb8"/>
<rect x="251.46" y="59.46" width="24.09" height="5.71" fill="#117ab9"/>
<rect x="155.30" y="65.12" width="24.09" height="5.71" fill="#147bb7"/>
<rect x="179.34" y="65.12" width="24.09" height="5.71" fill="#157cb6"/>
<rect x="203.38" y="65.12" width="24.09" height="5.71" fill="#0a76bf"/>
<rect x="227.42" y="65.12" width="24.09" height="5.71" fill="#157cb6"/>
<rect x="251.46" y="65.12" width="24.09" height="5.71" fill="#147bb7"/>
<rect x="155.30" y="70.78" width="24.09" height="5.71" fill="#157cb6"/>
<rect x="179.34" y="70.78" width="24.09" height="5.71" fill="#177db4"/>
<rect x="203.38" y="70.78" width="24.09" height="5.71" fill="#0e78bc"/>
<rect x="227.42" y="70.78" width="24.09" height="5.71" fill="#177db4"/>
<rect x="251.46" y="70.78" width="24.09" height="5.71" fill="#147bb7"/>
<rect x="155.30" y="76.44" width="24.09" height="5.71" fill="#177db4"/>
<rect x="179.34" y="76.44" width="24.09" height="5.71" fill="#197eb3"/>
<rect x="203.38" y="76.44" width="24.09" height="5.71" fill="#127ab8"/>
<rect x="227.42" y="76.44" width="24.09" height="5.71" fill="#197eb3"/>
<rect x="251.46" y="76.44" width="24.09" height="5.71" fill="#177db4"/>
<rect x="155.30" y="82.10" width="24.09" height="5.71" fill="#197eb3"/>
<rect x="179.34" y="82.10" width="24.09" height="5.71" fill="#1b7fb1"/>
<rect x="203.38" y="82.10" width="24.09" height="5.71" fill="#167cb5"/>
<rect x="227.42" y="82.10" width="24.09" height="5.71" fill="#1b7fb1"/>
<rect x="251.46" y="82.10" width="24.09" height="5.71" fill="#177db4"/>
<rect x="155.30" y="87.76" width="24.09" height="5.71" fill="#1a7fb2"/>
<rect x="179.34" y="87.76" width="24.09" height="5.71" fill="#1d80b0"/>
<rect x="203.38" y="87.76" width="24.09" height="5.71" fill="#1a7fb2"/>
<rect x="227.42" y="87.76" width="24.09" height="5.71" fill="#1d80b0"/>
<rect x="251.46" y="87.76" width="24.09" height="5.71" fill="#1a7fb2"/>
<rect x="155.30" y="93.41" width="24.09" height="5.71" fill="#1d80b0"/>
<rect x="179.34" y="93.41" width="24.09" height="5.71" fill="#1f81ae"/>
<rect x="203.38" y="93.41" width="24.09" height="5.71" fill="#1e81af"/>
<rect x="227.42" y="93.41" width="24.09" height="5.71" fill="#1f81ae"/>
<rect x="251.46" y="93.41" width="24.09" height="5.71" fill="#1a7fb2"/>
<rect x="155.30" y="99.07" width="24.09" height="5.71" fill="#1d80b0"/>
<rect x="179.34" y="99.07" width="24.09" height="5.71" fill="#2183ad"/>
<rect x="203.38" y="99.07" width="24.09" height="5.71" fill="#2283ac"/>
<rect x="227.42" y="99.07" width="24.09" height="5.71" fill="#2183ad"/>
<rect x="251.46" y="99.07" width="24.09" height="5.71" fill="#1d80b0"/>
<rect x="155.30" y="104.73" width="24.09" height="5.71" fill="#2183ad"/>
<rect x="179.34" y="104.73" width="24.09" height="5.71" fill="#2384ab"/>
<rect x="203.38" y="104.73" width="24.09" height="5.71" fill="#2685a9"/>
<rect x="227.42" y="104.73" width="24.09" height="5.71" fill="#2384ab"/>
<rect x="251.46" y="104.73" width="24.09" height="5.71" fill="#1d80b0"/>
<rect x="155.30" y="110.39" width="24.09" height="5.71" fill="#2082ad"/>
<rect x="179.34" y="110.39" width="24.09" height="5.71" fill="#2585a9"/>
<rect x="203.38" y="110.39" width="24.09" height="5.71" fill="#2a88a5"/>
<rect x="227.42" y="110.39" width="24.09" height="5.71" fill="#2585a9"/>
<rect x="251.46" y="110.39" width="24.09" height="5.71" fill="#2082ad"/>
<rect x="155.30" y="116.05" width="24.09" height="5.71" fill="#2585a9"/>
<rect x="179.34" y="116.05" width="24.09" height="5.71" fill="#2886a7"/>
<rect x="203.38" y="116.05" width="24.09" height="5.71" fill="#2e8aa2"/>
<rect x="227.42" y="116.05" width="24.09" height="5.71" fill="#2886a7"/>
<rect x="251.46" y="116.05" width="24.09" height="5.71" fill="#2082ad"/>
<rect x="155.30" y="121.71" width="24.09" height="5.71" fill="#2484aa"/>
<rect x="179.34" y="121.71" width="24.09" height="5.71" fill="#2b88a5"/>
<rect x="203.38" y="121.71" width="24.09" height="5.71" fill="#328c9f"/>
<rect x="227.42" y="121.71" width="24.09" height="5.71" fill="#2b88a5"/>
<rect x="251.46" y="121.71" width="24.09" height="5.71" fill="#2585a9"/>
<rect x="155.30" y="127.37" width="24.09" height="5.71" fill="#2a88a5"/>
<rect x="179.34" y="127.37" width="24.09" height="5.71" fill="#2e8aa3"/>
<rect x="203.38" y="127.37" width="24.09" height="5.71" fill="#368e9c"/>
<rect x="227.42" y="127.37" width="24.09" height="5.71" fill="#2e8aa3"/>
<rect x="251.46" y="127.37" width="24.09" height="5.71" fill="#2786a8"/>
<rect x="155.30" y="133.03" width="24.09" height="5.71" fill="#2887a7"/>
<rect x="179.34" y="133.03" width="24.09" height="5.71" fill="#318ba1"/>
<rect x="203.38" y="133.03" width="24.09" height="5.71" fill="#3a9199"/>
<rect x="227.42" y="133.03" width="24.09" height="5.71" fill="#318ba1"/>
<rect x="251.46" y="133.03" width="24.09" height="5.71" fill="#2a88a5"/>
<rect x="155.30" y="138.69" width="24.09" height="5.71" fill="#308ba2"/>
<rect x="179.34" y="138.69" width="24.09" height="5.71" fill="#338d9e"/>
<rect x="203.38" y="138.69" width="24.09" height="5.71" fill="#3e9396"/>
<rect x="227.42" y="138.69" width="24.09" height="5.71" fill="#338d9e"/>
<rect x="251.46" y="138.69" width="24.09" height="5.71" fill="#2f8aa2"/>
<rect x="155.30" y="144.35" width="24.09" height="5.71" fill="#2d89a4"/>
<rect x="179.34" y="144.35" width="24.09" height="5.71" fill="#368e9c"/>
<rect x="203.38" y="144.35" width="24.09" height="5.71" fill="#429593"/>
<rect x="227.42" y="144.35" width="24.09" height="5.71" fill="#368e9c"/>
<rect x="251.46" y="144.35" width="24.09" height="5.71" fill="#308ba2"/>
<rect x="155.30" y="150.01" width="24.09" height="5.71" fill="#358d9e"/>
<rect x="179.34" y="150.01" width="24.09" height="5.71" fill="#39909a"/>
<rect x="203.38" y="150.01" width="24.09" height="5.71" fill="#469790"/>
<rect x="227.42" y="150.01" width="24.09" height="5.71" fill="#39909a"/>
<rect x="251.46" y="150.01" width="24.09" height="5.71" fill="#368e9d"/>
<rect x="155.30" y="155.67" width="24.09" height="5.71" fill="#318ba1"/>
<rect x="179.34" y="155.67" width="24.09" height="5.71" fill="#3c9298"/>
<rect x="203.38" y="155.67" width="24.09" height="5.71" fill="#4a998d"/>
<rect x="227.42" y="155.67" width="24.09" height="5.71" fill="#3c9298"/>
<rect x="251.46" y="155.67" width="24.09" height="5.71" fill="#358d9e"/>
<rect x="155.30" y="161.33" width="24.09" height="5.71" fill="#3a909a"/>
<rect x="179.34" y="161.33" width="24.09" height="5.71" fill="#3f9396"/>
<rect x="203.38" y="161.33" width="24.09" height="5.71" fill="#4e9c8a"/>
<rect x="227.42" y="161.33" width="24.09" height="5.71" fill="#3f9396"/>
<rect x="251.46" y="161.33" width="24.09" height="5.71" fill="#3d9297"/>
<rect x="155.30" y="166.99" width="24.09" height="5.71" fill="#358d9e"/>
<rect x="179.34" y="166.99" width="24.09" height="5.71" fill="#449692"/>
<rect x="203.38" y="166.99" width="24.09" height="5.71" fill="#539e86"/>
<rect x="227.42" y="166.99" width="24.09" height="5.71" fill="#449692"/>
<rect x="251.46" y="166.99" width="24.09" height="5.71" fill="#3a909a"/>
<rect x="155.30" y="172.64" width="24.09" height="5.71" fill="#3f9396"/>
<rect x="179.34" y="172.64" width="24.09" height="5.71" fill="#48988e"/>
<rect x="203.38" y="172.64" width="24.09" height="5.71" fill="#59a281"/>
<rect x="227.42" y="172.64" width="24.09" height="5.71" fill="#48988e"/>
<rect x="251.46" y="172.64" width="24.09" height="5.71" fill="#449692"/>
<rect x="155.30" y="178.30" width="24.09" height="5.71" fill="#378f9c"/>
<rect x="179.34" y="178.30" width="24.09" height="5.71" fill="#4d9b8b"/>
<rect x="203.38" y="178.30" width="24.09" height="5.71" fill="#5fa57d"/>
<rect x="227.42" y="178.30" width="24.09" height="5.71" fill="#4d9b8b"/>
<rect x="251.46" y="178.30" width="24.09" height="5.71" fill="#3f9396"/>
<rect x="155.30" y="183.96" width="24.09" height="5.71" fill="#439593"/>
<rect x="179.34" y="183.96" width="24.09" height="5.71" fill="#519e87"/>
<rect x="203.38" y="183.96" width="24.09" height="5.71" fill="#65a978"/>
<rect x="227.42" y="183.96" width="24.09" height="5.71" fill="#519e87"/>
<rect x="251.46" y="183.96" width="24.09" height="5.71" fill="#4a998d"/>
<rect x="155.30" y="189.62" width="24.09" height="5.71" fill="#39909a"/>
<rect x="179.34" y="189.62" width="24.09" height="5.71" fill="#56a084"/>
<rect x="203.38" y="189.62" width="24.09" height="5.71" fill="#6bac73"/>
<rect x="227.42" y="189.62" width="24.09" height="5.71" fill="#56a084"/>
<rect x="251.46" y="189.62" width="24.09" height="5.71" fill="#449692"/>
<rect x="155.30" y="195.28" width="24.09" height="5.71" fill="#47988f"/>
<rect x="179.34" y="195.28" width="24.09" height="5.71" fill="#5ba380"/>
<rect x="203.38" y="195.28" width="24.09" height="5.71" fill="#71af6e"/>
<rect x="227.42" y="195.28" width="24.09" height="5.71" fill="#5ba380"/>
<rect x="251.46" y="195.28" width="24.09" height="5.71" fill="#509d88"/>
<rect x="155.30" y="200.94" width="24.09" height="5.71" fill="#3b9199"/>
<rect x="179.34" y="200.94" width="24.09" height="5.71" fill="#5fa57d"/>
<rect x="203.38" y="200.94" width="24.09" height="5.71" fill="#77b36a"/>
<rect x="227.42" y="200.94" width="24.09" height="5.71" fill="#5fa57d"/>
<rect x="251.46" y="200.94" width="24.09" height="5.71" fill="#49998e"/>
<rect x="155.30" y="206.60" width="24.09" height="5.71" fill="#4b9a8c"/>
<rect x="179.34" y="206.60" width="24.09" height="5.71" fill="#64a879"/>
<rect x="203.38" y="206.60" width="24.09" height="5.71" fill="#7db665"/>
<rect x="227.42" y="206.60" width="24.09" height="5.71" fill="#64a879"/>
<rect x="251.46" y="206.60" width="24.09" height="5.71" fill="#56a084"/>
<rect x="155.30" y="212.26" width="24.09" height="5.71" fill="#3d9297"/>
<rect x="179.34" y="212.26" width="24.09" height="5.71" fill="#68aa75"/>
<rect x="203.38" y="212.26" width="24.09" height="5.71" fill="#84ba60"/>
<rect x="227.42" y="212.26" width="24.09" height="5.71" fill="#68aa75"/>
<rect x="251.46" y="212.26" width="24.09" height="5.71" fill="#4e9c8a"/>
<rect x="155.30" y="217.92" width="24.09" height="5.71" fill="#4f9c89"/>
<rect x="179.34" y="217.92" width="24.09" height="5.71" fill="#6dad72"/>
<rect x="203.38" y="217.92" width="24.09" height="5.71" fill="#8abd5b"/>
<rect x="227.42" y="217.92" width="24.09" height="5.71" fill="#6dad72"/>
<rect x="251.46" y="217.92" width="24.09" height="5.71" fill="#5ca47f"/>
<rect x="155.30" y="223.58" width="24.09" height="5.71" fill="#3f9396"/>
<rect x="179.34" y="223.58" width="24.09" height="5.71" fill="#71af6e"/>
<rect x="203.38" y="223.58" width="24.09" height="5.71" fill="#90c157"/>
<rect x="227.42" y="223.58" width="24.09" height="5.71" fill="#71af6e"/>
<rect x="251.46" y="223.58" width="24.09" height="5.71" fill="#539e86"/>
<rect x="155.30" y="229.24" width="24.09" height="5.71" fill="#539e86"/>
<rect x="179.34" y="229.24" width="24.09" height="5.71" fill="#78b369"/>
<rect x="203.38" y="229.24" width="24.09" height="5.71" fill="#9cc74d"/>
<rect x="227.42" y="229.24" width="24.09" height="5.71" fill="#79b468"/>
<rect x="251.46" y="229.24" width="24.09" height="5.71" fill="#62a77a"/>
<rect x="155.30" y="234.90" width="24.09" height="5.71" fill="#429593"/>
<rect x="179.34" y="234.90" width="24.09" height="5.71" fill="#7fb764"/>
<rect x="203.38" y="234.90" width="24.09" height="5.71" fill="#a8ce43"/>
<rect x="227.42" y="234.90" width="24.09" height="5.71" fill="#81b862"/>
<rect x="251.46" y="234.90" width="24.09" height="5.71" fill="#64a879"/>
<rect x="155.30" y="240.56" width="24.09" height="5.71" fill="#5aa281"/>
<rect x="179.34" y="240.56" width="24.09" height="5.71" fill="#86bb5f"/>
<rect x="203.38" y="240.56" width="24.09" height="5.71" fill="#b5d53a"/>
<rect x="227.42" y="240.56" width="24.09" height="5.71" fill="#89bd5c"/>
<rect x="251.46" y="240.56" width="24.09" height="5.71" fill="#75b26b"/>
<rect x="155.30" y="246.21" width="24.09" height="5.71" fill="#459790"/>
<rect x="179.34" y="246.21" width="24.09" height="5.71" fill="#8cbf59"/>
<rect x="203.38" y="246.21" width="24.09" height="5.71" fill="#c1dc30"/>
<rect x="227.42" y="246.21" width="24.09" height="5.71" fill="#91c156"/>
<rect x="251.46" y="246.21" width="24.09" height="5.71" fill="#75b26b"/>
<rect x="155.30" y="251.87" width="24.09" height="5.71" fill="#60a67b"/>
<rect x="179.34" y="251.87" width="24.09" height="5.71" fill="#93c254"/>
<rect x="203.38" y="251.87" width="24.09" height="5.71" fill="#cee327"/>
<rect x="227.42" y="251.87" width="24.09" height="5.71" fill="#99c650"/>
<rect x="251.46" y="251.87" width="24.09" height="5.71" fill="#89bd5c"/>
<rect x="155.30" y="257.53" width="24.09" height="5.71" fill="#49998e"/>
<rect x="179.34" y="257.53" width="24.09" height="5.71" fill="#9ac64f"/>
<rect x="203.38" y="257.53" width="24.09" height="5.71" fill="#daea1d"/>
<rect x="227.42" y="257.53" width="24.09" height="5.71" fill="#a1ca4a"/>
<rect x="251.46" y="257.53" width="24.09" height="5.71" fill="#87bb5e"/>
<rect x="155.30" y="263.19" width="24.09" height="5.71" fill="#67aa76"/>
<rect x="179.34" y="263.19" width="24.09" height="5.71" fill="#a1ca4a"/>
<rect x="203.38" y="263.19" width="24.09" height="5.71" fill="#e6f113"/>
<rect x="227.42" y="263.19" width="24.09" height="5.71" fill="#a8ce43"/>
<rect x="251.46" y="263.19" width="24.09" height="5.71" fill="#9cc74d"/>
<rect x="155.30" y="268.85" width="24.09" height="5.71" fill="#509d88"/>
<rect x="179.34" y="268.85" width="24.09" height="5.71" fill="#a7ce44"/>
<rect x="203.38" y="268.85" width="24.09" height="5.71" fill="#f3f80a"/>
<rect x="227.42" y="268.85" width="24.09" height="5.71" fill="#b0d33d"/>
<rect x="251.46" y="268.85" width="24.09" height="5.71" fill="#98c550"/>
<rect x="155.30" y="274.51" width="24.09" height="5.71" fill="#74b16c"/>
<rect x="179.34" y="274.51" width="24.09" height="5.71" fill="#aed23f"/>
<rect x="203.38" y="274.51" width="24.09" height="5.71" fill="#ffff00"/>
<rect x="227.42" y="274.51" width="24.09" height="5.71" fill="#b8d737"/>
<rect x="251.46" y="274.51" width="24.09" height="5.71" fill="#afd23e"/>
<rect x="155.30" y="280.17" width="24.09" height="5.71" fill="#58a182"/>
<rect x="179.34" y="280.17" width="24.09" height="5.71" fill="#bdda33"/>
<rect x="203.38" y="280.17" width="24.09" height="5.71" fill="#fff000"/>
<rect x="227.42" y="280.17" width="24.09" height="5.71" fill="#e6f114"/>
<rect x="251.46" y="280.17" width="24.09" height="5.71" fill="#a9cf43"/>
<rect x="155.30" y="285.83" width="24.09" height="5.71" fill="#80b862"/>
<rect x="179.34" y="285.83" width="24.09" height="5.71" fill="#c7e02b"/>
<rect x="203.38" y="285.83" width="24.09" height="5.71" fill="#ffe500"/>
<rect x="227.42" y="285.83" width="24.09" height="5.71" fill="#ebf410"/>
<rect x="251.46" y="285.83" width="24.09" height="5.71" fill="#c2dd2f"/>
<rect x="155.30" y="291.49" width="24.09" height="5.71" fill="#60a67c"/>
<rect x="179.34" y="291.49" width="24.09" height="5.71" fill="#d1e523"/>
<rect x="203.38" y="291.49" width="24.09" height="5.71" fill="#ffdb00"/>
<rect x="227.42" y="291.49" width="24.09" height="5.71" fill="#f0f60c"/>
<rect x="251.46" y="291.49" width="24.09" height="5.71" fill="#b0d33d"/>
<rect x="155.30" y="297.15" width="24.09" height="5.71" fill="#8bbe5b"/>
<rect x="179.34" y="297.15" width="24.09" height="5.71" fill="#dceb1c"/>
<rect x="203.38" y="297.15" width="24.09" height="5.71" fill="#ffd100"/>
<rect x="227.42" y="297.15" width="24.09" height="5.71" fill="#f5f908"/>
<rect x="251.46" y="297.15" width="24.09" height="5.71" fill="#cbe228"/>
<rect x="155.30" y="302.81" width="24.09" height="5.71" fill="#67aa76"/>
<rect x="179.34" y="302.81" width="24.09" height="5.71" fill="#e3ef16"/>
<rect x="203.38" y="302.81" width="24.09" height="5.71" fill="#ffc700"/>
<rect x="227.42" y="302.81" width="24.09" height="5.71" fill="#fafc04"/>
<rect x="251.46" y="302.81" width="24.09" height="5.71" fill="#b7d738"/>
<rect x="155.30" y="308.47" width="24.09" height="5.71" fill="#95c353"/>
<rect x="179.34" y="308.47" width="24.09" height="5.71" fill="#ebf410"/>
<rect x="203.38" y="308.47" width="24.09" height="5.71" fill="#ffbb00"/>
<rect x="227.42" y="308.47" width="24.09" height="5.71" fill="#ffff00"/>
<rect x="251.46" y="308.47" width="24.09" height="5.71" fill="#d4e721"/>
<rect x="155.30" y="314.13" width="24.09" height="5.71" fill="#69ab75"/>
<rect x="179.34" y="314.13" width="24.09" height="5.71" fill="#f1f70b"/>
<rect x="203.38" y="314.13" width="24.09" height="5.71" fill="#ffaf00"/>
<rect x="227.42" y="314.13" width="24.09" height="5.71" fill="#fff900"/>
<rect x="251.46" y="314.13" width="24.09" height="5.71" fill="#bedb32"/>
<rect x="155.30" y="319.79" width="24.09" height="5.71" fill="#98c550"/>
<rect x="179.34" y="319.79" width="24.09" height="5.71" fill="#f7fa06"/>
<rect x="203.38" y="319.79" width="24.09" height="5.71" fill="#ffa300"/>
<rect x="227.42" y="319.79" width="24.09" height="5.71" fill="#fff300"/>
<rect x="251.46" y="319.79" width="24.09" height="5.71" fill="#deec1a"/>
<rect x="155.30" y="325.44" width="24.09" height="5.71" fill="#6bac74"/>
<rect x="179.34" y="325.44" width="24.09" height="5.71" fill="#fdfe02"/>
<rect x="203.38" y="325.44" width="24.09" height="5.71" fill="#ff9700"/>
<rect x="227.42" y="325.44" width="24.09" height="5.71" fill="#ffed00"/>
<rect x="251.46" y="325.44" width="24.09" height="5.71" fill="#c5df2d"/>
<rect x="155.30" y="331.10" width="24.09" height="5.71" fill="#9bc74d"/>
<rect x="179.34" y="331.10" width="24.09" height="5.71" fill="#fffb00"/>
<rect x="203.38" y="331.10" width="24.09" height="5.71" fill="#ff8b00"/>
<rect x="227.42" y="331.10" width="24.09" height="5.71" fill="#ffe700"/>
<rect x="251.46" y="331.10" width="24.09" height="5.71" fill="#e7f113"/>
<rect x="155.30" y="336.76" width="24.09" height="5.71" fill="#6cad72"/>
<rect x="179.34" y="336.76" width="24.09" height="5.71" fill="#fff500"/>
<rect x="203.38" y="336.76" width="24.09" height="5.71" fill="#ff8000"/>
<rect x="227.42" y="336.76" width="24.09" height="5.71" fill="#ffe000"/>
<rect x="251.46" y="336.76" width="24.09" height="5.71" fill="#cce327"/>
<rect x="155.30" y="342.42" width="24.09" height="5.71" fill="#9fc94b"/>
<rect x="179.34" y="342.42" width="24.09" height="5.71" fill="#ffef00"/>
<rect x="203.38" y="342.42" width="24.09" height="5.71" fill="#ff7500"/>
<rect x="227.42" y="342.42" width="24.09" height="5.71" fill="#ffda00"/>
<rect x="251.46" y="342.42" width="24.09" height="5.71" fill="#f0f60c"/>
<rect x="155.30" y="348.08" width="24.09" height="5.71" fill="#70af6f"/>
<rect x="179.34" y="348.08" width="24.09" height="5.71" fill="#ffe900"/>
<rect x="203.38" y="348.08" width="24.09" height="5.71" fill="#ff6b00"/>
<rect x="227.42" y="348.08" width="24.09" height="5.71" fill="#ffd400"/>
<rect x="251.46" y="348.08" width="24.09" height="5.71" fill="#cce327"/>
<rect x="155.30" y="353.74" width="24.09" height="5.71" fill="#a6cd45"/>
<rect x="179.34" y="353.74" width="24.09" height="5.71" fill="#ffe200"/>
<rect x="203.38" y="353.74" width="24.09" height="5.71" fill="#ff6100"/>
<rect x="227.42" y="353.74" width="24.09" height="5.71" fill="#ffce00"/>
<rect x="251.46" y="353.74" width="24.09" height="5.71" fill="#f1f70b"/>
<rect x="155.30" y="359.40" width="24.09" height="5.71" fill="#74b16c"/>
<rect x="179.34" y="359.40" width="24.09" height="5.71" fill="#ffdc00"/>
<rect x="203.38" y="359.40" width="24.09" height="5.71" fill="#ff5400"/>
<rect x="227.42" y="359.40" width="24.09" height="5.71" fill="#ffc800"/>
<rect x="251.46" y="359.40" width="24.09" height="5.71" fill="#cce327"/>
<rect x="155.30" y="365.06" width="24.09" height="5.71" fill="#aed23f"/>
<rect x="179.34" y="365.06" width="24.09" height="5.71" fill="#ffd600"/>
<rect x="203.38" y="365.06" width="24.09" height="5.71" fill="#ff4700"/>
<rect x="227.42" y="365.06" width="24.09" height="5.71" fill="#ffc200"/>
<rect x="251.46" y="365.06" width="24.09" height="5.71" fill="#f2f80a"/>
<rect x="155.30" y="370.72" width="24.09" height="5.71" fill="#78b369"/>
<rect x="179.34" y="370.72" width="24.09" height="5.71" fill="#ffd100"/>
<rect x="203.38" y="370.72" width="24.09" height="5.71" fill="#ff3800"/>
<rect x="227.42" y="370.72" width="24.09" height="5.71" fill="#ffbd00"/>
<rect x="251.46" y="370.72" width="24.09" height="5.71" fill="#cce327"/>
<rect x="155.30" y="376.38" width="24.09" height="5.71" fill="#b8d737"/>
<rect x="179.34" y="376.38" width="24.09" height="5.71" fill="#ffcc00"/>
<rect x="203.38" y="376.38" width="24.09" height="5.71" fill="#ff2900"/>
<rect x="227.42" y="376.38" width="24.09" height="5.71" fill="#ffb800"/>
<rect x="251.46" y="376.38" width="24.09" height="5.71" fill="#f4f909"/>
<rect x="155.30" y="382.04" width="24.09" height="5.71" fill="#7bb566"/>
<rect x="179.34" y="382.04" width="24.09" height="5.71" fill="#ffc700"/>
<rect x="203.38" y="382.04" width="24.09" height="5.71" fill="#ff1c00"/>
<rect x="227.42" y="382.04" width="24.09" height="5.71" fill="#ffb200"/>
<rect x="251.46" y="382.04" width="24.09" height="5.71" fill="#cce327"/>
<rect x="155.30" y="387.70" width="24.09" height="5.71" fill="#c2dd2f"/>
<rect x="179.34" y="387.70" width="24.09" height="5.71" fill="#ffc200"/>
<rect x="203.38" y="387.70" width="24.09" height="5.71" fill="#ff0f00"/>
<rect x="227.42" y="387.70" width="24.09" height="5.71" fill="#ffad00"/>
<rect x="251.46" y="387.70" width="24.09" height="5.71" fill="#f5f908"/>
<rect x="155.30" y="393.36" width="24.09" height="5.71" fill="#80b862"/>
<rect x="179.34" y="393.36" width="24.09" height="5.71" fill="#ffad00"/>
<rect x="203.38" y="393.36" width="24.09" height="5.71" fill="#ff0000"/>
<rect x="227.42" y="393.36" width="24.09" height="5.71" fill="#ffa800"/>
<rect x="251.46" y="393.36" width="24.09" height="5.71" fill="#d7e820"/>
<rect x="155.30" y="399.01" width="24.09" height="5.71" fill="#cce327"/>
<rect x="179.34" y="399.01" width="24.09" height="5.71" fill="#ffa600"/>
<rect x="203.38" y="399.01" width="24.09" height="5.71" fill="#ff0000"/>
<rect x="227.42" y="399.01" width="24.09" height="5.71" fill="#ffa800"/>
<rect x="251.46" y="399.01" width="24.09" height="5.71" fill="#f5f908"/>
<rect x="155.30" y="404.67" width="24.09" height="5.71" fill="#9ac64f"/>
<rect x="179.34" y="404.67" width="24.09" height="5.71" fill="#ff9e00"/>
<rect x="203.38" y="404.67" width="24.09" height="5.71" fill="#ff0000"/>
<rect x="227.42" y="404.67" width="24.09" height="5.71" fill="#ffa800"/>
<rect x="251.46" y="404.67" width="24.09" height="5.71" fill="#cce327"/>
<rect x="155.30" y="410.33" width="24.09" height="5.71" fill="#e6f114"/>
<rect x="179.34" y="410.33" width="24.09" height="5.71" fill="#ff9900"/>
<rect x="203.38" y="410.33" width="24.09" height="5.71" fill="#ff0000"/>
<rect x="227.42" y="410.33" width="24.09" height="5.71" fill="#ffaa00"/>
<rect x="251.46" y="410.33" width="24.09" height="5.71" fill="#f0f60c"/>
<rect x="155.30" y="415.99" width="24.09" height="5.71" fill="#b3d43b"/>
<rect x="179.34" y="415.99" width="24.09" height="5.71" fill="#ff9400"/>
<rect x="203.38" y="415.99" width="24.09" height="5.71" fill="#ff0000"/>
<rect x="227.42" y="415.99" width="24.09" height="5.71" fill="#ffab00"/>
<rect x="251.46" y="415.99" width="24.09" height="5.71" fill="#b3d43b"/>
<rect x="155.30" y="421.65" width="24.09" height="5.71" fill="#f5f908"/>
<rect x="179.34" y="421.65" width="24.09" height="5.71" fill="#ff9100"/>
<rect x="203.38" y="421.65" width="24.09" height="5.71" fill="#ff0000"/>
<rect x="227.42" y="421.65" width="24.09" height="5.71" fill="#ffac00"/>
<rect x="251.46" y="421.65" width="24.09" height="5.71" fill="#d7e820"/>
<rect x="155.30" y="427.31" width="24.09" height="5.71" fill="#cce327"/>
<rect x="179.34" y="427.31" width="24.09" height="5.71" fill="#ff8f00"/>
<rect x="203.38" y="427.31" width="24.09" height="5.71" fill="#ff0000"/>
<rect x="227.42" y="427.31" width="24.09" height="5.71" fill="#ffad00"/>
<rect x="251.46" y="427.31" width="24.09" height="5.71" fill="#9ac64f"/>
<rect x="155.30" y="432.97" width="24.09" height="5.71" fill="#ffff00"/>
<rect x="179.34" y="432.97" width="24.09" height="5.71" fill="#ff8c00"/>
<rect x="203.38" y="432.97" width="24.09" height="5.71" fill="#ff0000"/>
<rect x="227.42" y="432.97" width="24.09" height="5.71" fill="#ffb000"/>
<rect x="251.46" y="432.97" width="24.09" height="5.71" fill="#cce327"/>
<rect x="155.30" y="438.63" width="24.09" height="5.71" fill="#d7e820"/>
<rect x="179.34" y="438.63" width="24.09" height="5.71" fill="#ff8a00"/>
<rect x="203.38" y="438.63" width="24.09" height="5.71" fill="#ff0000"/>
<rect x="227.42" y="438.63" width="24.09" height="5.71" fill="#ffb200"/>
<rect x="251.46" y="438.63" width="24.09" height="5.71" fill="#90c157"/>
<rect x="155.30" y="444.29" width="24.09" height="5.71" fill="#ffe500"/>
<rect x="179.34" y="444.29" width="24.09" height="5.71" fill="#ff8500"/>
<rect x="203.38" y="444.29" width="24.09" height="5.71" fill="#ff0000"/>
<rect x="227.42" y="444.29" width="24.09" height="5.71" fill="#ffb800"/>
<rect x="251.46" y="444.29" width="24.09" height="5.71" fill="#c2dd2f"/>
<rect x="155.30" y="449.95" width="24.09" height="5.71" fill="#e6f114"/>
<rect x="179.34" y="449.95" width="24.09" height="5.71" fill="#ff8500"/>
<rect x="203.38" y="449.95" width="24.09" height="5.71" fill="#ff0000"/>
<rect x="227.42" y="449.95" width="24.09" height="5.71" fill="#ffbd00"/>
<rect x="251.46" y="449.95" width="24.09" height="5.71" fill="#71af6e"/>
<rect x="155.30" y="455.61" width="24.09" height="5.71" fill="#ffe000"/>
<rect x="179.34" y="455.61" width="24.09" height="5.71" fill="#ff8500"/>
<rect x="203.38" y="455.61" width="24.09" height="5.71" fill="#ff0f00"/>
<rect x="227.42" y="455.61" width="24.09" height="5.71" fill="#ffc200"/>
<rect x="251.46" y="455.61" width="24.09" height="5.71" fill="#b3d43b"/>
<rect x="155.30" y="461.27" width="24.09" height="5.71" fill="#ffff00"/>
<rect x="179.34" y="461.27" width="24.09" height="5.71" fill="#ff9900"/>
<rect x="203.38" y="461.27" width="24.09" height="5.71" fill="#ff0f00"/>
<rect x="227.42" y="461.27" width="24.09" height="5.71" fill="#ffff00"/>
<rect x="251.46" y="461.27" width="24.09" height="5.71" fill="#4e9c8a"/>
<rect x="155.30" y="466.93" width="24.09" height="5.71" fill="#ffe500"/>
<rect x="179.34" y="466.93" width="24.09" height="5.71" fill="#ffb800"/>
<rect x="203.38" y="466.93" width="24.09" height="5.71" fill="#ff4c00"/>
<rect x="227.42" y="466.93" width="24.09" height="5.71" fill="#e6f114"/>
<rect x="251.46" y="466.93" width="24.09" height="5.71" fill="#67aa76"/>
<rect x="155.30" y="472.59" width="24.09" height="5.71" fill="#f0f60c"/>
<rect x="179.34" y="472.59" width="24.09" height="5.71" fill="#ffff00"/>
<rect x="203.38" y="472.59" width="24.09" height="5.71" fill="#ff7000"/>
<rect x="227.42" y="472.59" width="24.09" height="5.71" fill="#9ac64f"/>
<rect x="251.46" y="472.59" width="24.09" height="5.71" fill="#0271c5"/>
<rect x="155.30" y="478.24" width="24.09" height="5.71" fill="#c2dd2f"/>
<rect x="179.34" y="478.24" width="24.09" height="5.71" fill="#d7e820"/>
<rect x="203.38" y="478.24" width="24.09" height="5.71" fill="#b3d43b"/>
<rect x="227.42" y="478.24" width="24.09" height="5.71" fill="#3f9396"/>
<rect x="251.46" y="478.24" width="24.09" height="5.71" fill="#0271c5"/>
<rect x="155.30" y="483.90" width="24.09" height="5.71" fill="#80b862"/>
<rect x="179.34" y="483.90" width="24.09" height="5.71" fill="#358d9e"/>
<rect x="203.38" y="483.90" width="24.09" height="5.71" fill="#3f9396"/>
<rect x="227.42" y="483.90" width="24.09" height="5.71" fill="#0c77bd"/>
<rect x="251.46" y="483.90" width="24.09" height="5.71" fill="#0271c5"/>
<rect x="155.30" y="489.56" width="24.09" height="5.71" fill="#117ab9"/>
<rect x="179.34" y="489.56" width="24.09" height="5.71" fill="#0271c5"/>
<rect x="203.38" y="489.56" width="24.09" height="5.71" fill="#0271c5"/>
<rect x="227.42" y="489.56" width="24.09" height="5.71" fill="#0271c5"/>
<rect x="251.46" y="489.56" width="24.09" height="5.71" fill="#0271c5"/>
<rect x="155.30" y="495.22" width="24.09" height="5.71" fill="#0271c5"/>
<rect x="179.34" y="495.22" width="24.09" height="5.71" fill="#0271c5"/>
<rect x="203.38" y="495.22" width="24.09" height="5.71" fill="#0271c5"/>
<rect x="227.42" y="495.22" width="24.09" height="5.71" fill="#0271c5"/>
<rect x="251.46" y="495.22" width="24.09" height="5.71" fill="#0271c5"/>
<rect x="155.30" y="500.88" width="24.09" height="5.71" fill="#0271c5"/>
<rect x="179.34" y="500.88" width="24.09" height="5.71" fill="#0271c5"/>
<rect x="203.38" y="500.88" width="24.09" height="5.71" fill="#0271c5"/>
<rect x="227.42" y="500.88" width="24.09" height="5.71" fill="#0271c5"/>
<rect x="251.46" y="500.88" width="24.09" height="5.71" fill="#0271c5"/>
<rect x="155.30" y="506.54" width="24.09" height="5.71" fill="#0271c5"/>
<rect x="179.34" y="506.54" width="24.09" height="5.71" fill="#0271c5"/>
<rect x="203.38" y="506.54" width="24.09" height="5.71" fill="#0271c5"/>
<rect x="227.42" y="506.54" width="24.09" height="5.71" fill="#0271c5"/>
<rect x="251.46" y="506.54" width="24.09" height="5.71" fill="#0271c5"/>
<path d="M155.30 59.46H275.50M155.30 65.12H275.50M155.30 70.78H275.50M155.30 76.44H275.50M155.30 82.10H275.50M155.30 87.76H275.50M155.30 93.41H275.50M155.30 99.07H275.50M155.30 104.73H275.50M155.30 110.39H275.50M155.30 116.05H275.50M155.30 121.71H275.50M155.30 127.37H275.50M155.30 133.03H275.50M155.30 138.69H275.50M155.30 144.35H275.50M155.30 150.01H275.50M155.30 155.67H275.50M155.30 161.33H275.50M155.30 166.99H275.50M155.30 172.64H275.50M155.30 178.30H275.50M155.30 183.96H275.50M155.30 189.62H275.50M155.30 195.28H275.50M155.30 200.94H275.50M155.30 206.60H275.50M155.30 212.26H275.50M155.30 217.92H275.50M155.30 223.58H275.50M155.30 229.24H275.50M155.30 234.90H275.50M155.30 240.56H275.50M155.30 246.21H275.50M155.30 251.87H275.50M155.30 257.53H275.50M155.30 263.19H275.50M155.30 268.85H275.50M155.30 274.51H275.50M155.30 280.17H275.50M155.30 285.83H275.50M155.30 291.49H275.50M155.30 297.15H275.50M155.30 302.81H275.50M155.30 308.47H275.50M155.30 314.13H275.50M155.30 319.79H275.50M155.30 325.44H275.50M155.30 331.10H275.50M155.30 336.76H275.50M155.30 342.42H275.50M155.30 348.08H275.50M155.30 353.74H275.50M155.30 359.40H275.50M155.30 365.06H275.50M155.30 370.72H275.50M155.30 376.38H275.50M155.30 382.04H275.50M155.30 387.70H275.50M155.30 393.36H275.50M155.30 399.01H275.50M155.30 404.67H275.50M155.30 410.33H275.50M155.30 415.99H275.50M155.30 421.65H275.50M155.30 427.31H275.50M155.30 432.97H275.50M155.30 438.63H275.50M155.30 444.29H275.50M155.30 449.95H275.50M155.30 455.61H275.50M155.30 461.27H275.50M155.30 466.93H275.50M155.30 472.59H275.50M155.30 478.24H275.50M155.30 483.90H275.50M155.30 489.56H275.50M155.30 495.22H275.50M155.30 500.88H275.50M155.30 506.54H275.50M179.34 53.80V512.20M203.38 53.80V512.20M227.42 53.80V512.20M251.46 53.80V512.20" stroke="#000" stroke-width="1.00" fill="none"/>
<rect x="155.30" y="42.50" width="120.20" height="11.30" fill="#f0f0f0"/>
<path d="M155.30 53.80H275.50" stroke="#000" stroke-width="1.1"/>
<rect x="155.30" y="42.50" width="120.20" height="469.70" fill="none" stroke="#000" stroke-width="1.05"/>
<rect x="295.30" y="53.50" width="15.04" height="455.50" fill="url(#g3_0)"/>
<rect x="309.54" y="53.50" width="15.04" height="455.50" fill="url(#g3_1)"/>
<rect x="323.79" y="53.50" width="15.04" height="455.50" fill="url(#g3_2)"/>
<rect x="338.03" y="53.50" width="15.04" height="455.50" fill="url(#g3_3)"/>
<rect x="352.28" y="53.50" width="15.04" height="455.50" fill="url(#g3_4)"/>
<rect x="366.52" y="53.50" width="15.04" height="455.50" fill="url(#g3_5)"/>
<rect x="380.77" y="53.50" width="15.04" height="455.50" fill="url(#g3_6)"/>
<rect x="395.01" y="53.50" width="15.04" height="455.50" fill="url(#g3_7)"/>
<rect x="409.26" y="53.50" width="14.24" height="455.50" fill="url(#g3_8)"/>
<rect x="352.28" y="177.98" width="14.24" height="2.83" fill="#5fa57d"/>
<rect x="352.28" y="183.64" width="14.24" height="2.83" fill="#64a879"/>
<rect x="295.30" y="189.30" width="14.24" height="2.83" fill="#3d9297"/>
<rect x="352.28" y="189.30" width="14.24" height="2.83" fill="#6cac73"/>
<rect x="352.28" y="194.96" width="14.24" height="2.83" fill="#6fae70"/>
<rect x="295.30" y="200.62" width="14.24" height="2.83" fill="#3d9297"/>
<rect x="409.26" y="200.62" width="14.24" height="2.83" fill="#509d89"/>
<rect x="352.28" y="200.62" width="14.24" height="2.83" fill="#7bb567"/>
<rect x="352.28" y="206.28" width="14.24" height="2.83" fill="#80b863"/>
<rect x="295.30" y="211.93" width="14.24" height="2.83" fill="#3c9298"/>
<rect x="409.26" y="211.93" width="14.24" height="2.83" fill="#59a281"/>
<rect x="352.28" y="211.93" width="14.24" height="2.83" fill="#91c156"/>
<rect x="352.28" y="217.59" width="14.24" height="2.83" fill="#93c354"/>
<rect x="295.30" y="223.25" width="14.24" height="2.83" fill="#3b9199"/>
<rect x="409.26" y="223.25" width="14.24" height="2.83" fill="#61a67b"/>
<rect x="352.28" y="223.25" width="14.24" height="2.83" fill="#a7ce44"/>
<rect x="352.28" y="228.91" width="14.24" height="2.83" fill="#a7cd45"/>
<rect x="295.30" y="234.57" width="14.24" height="2.83" fill="#39909a"/>
<rect x="409.26" y="234.57" width="14.24" height="2.83" fill="#6aab74"/>
<rect x="352.28" y="234.57" width="14.24" height="2.83" fill="#bcda34"/>
<rect x="352.28" y="240.23" width="14.24" height="2.83" fill="#bad836"/>
<rect x="295.30" y="245.89" width="14.24" height="2.83" fill="#358e9d"/>
<rect x="409.26" y="245.89" width="14.24" height="2.83" fill="#73b06d"/>
<rect x="352.28" y="245.89" width="14.24" height="2.83" fill="#d1e523"/>
<rect x="352.28" y="251.54" width="14.24" height="2.83" fill="#cee426"/>
<rect x="295.30" y="257.20" width="14.24" height="2.83" fill="#328c9f"/>
<rect x="409.26" y="257.20" width="14.24" height="2.83" fill="#7cb566"/>
<rect x="352.28" y="257.20" width="14.24" height="2.83" fill="#eaf310"/>
<rect x="352.28" y="262.86" width="14.24" height="2.83" fill="#e6f113"/>
<rect x="295.30" y="268.52" width="14.24" height="2.83" fill="#338d9f"/>
<rect x="409.26" y="268.52" width="14.24" height="2.83" fill="#86bb5f"/>
<rect x="352.28" y="268.52" width="14.24" height="2.83" fill="#fffa00"/>
<rect x="352.28" y="274.18" width="14.24" height="2.83" fill="#fefe01"/>
<rect x="295.30" y="279.84" width="14.24" height="2.83" fill="#348d9e"/>
<rect x="409.26" y="279.84" width="14.24" height="2.83" fill="#8fc057"/>
<rect x="352.28" y="279.84" width="14.24" height="2.83" fill="#ffdf00"/>
<rect x="352.28" y="285.49" width="14.24" height="2.83" fill="#ffe500"/>
<rect x="295.30" y="291.15" width="14.24" height="2.83" fill="#358d9e"/>
<rect x="409.26" y="291.15" width="14.24" height="2.83" fill="#9ac64f"/>
<rect x="352.28" y="291.15" width="14.24" height="2.83" fill="#ffc000"/>
<rect x="352.28" y="296.81" width="14.24" height="2.83" fill="#ffc700"/>
<rect x="295.30" y="302.47" width="14.24" height="2.83" fill="#378f9c"/>
<rect x="409.26" y="302.47" width="14.24" height="2.83" fill="#a2cb48"/>
<rect x="352.28" y="302.47" width="14.24" height="2.83" fill="#ffa100"/>
<rect x="352.28" y="308.13" width="14.24" height="2.83" fill="#ffac00"/>
<rect x="295.30" y="313.79" width="14.24" height="2.83" fill="#3e9396"/>
<rect x="409.26" y="313.79" width="14.24" height="2.83" fill="#a8ce44"/>
<rect x="352.28" y="313.79" width="14.24" height="2.83" fill="#ff8600"/>
<rect x="352.28" y="319.44" width="14.24" height="2.83" fill="#ff9300"/>
<rect x="295.30" y="325.10" width="14.24" height="2.83" fill="#459691"/>
<rect x="409.26" y="325.10" width="14.24" height="2.83" fill="#afd23e"/>
<rect x="352.28" y="325.10" width="14.24" height="2.83" fill="#ff6d00"/>
<rect x="352.28" y="330.76" width="14.24" height="2.83" fill="#ff7a00"/>
<rect x="295.30" y="336.42" width="14.24" height="2.83" fill="#4c9a8c"/>
<rect x="409.26" y="336.42" width="14.24" height="2.83" fill="#b8d737"/>
<rect x="352.28" y="336.42" width="14.24" height="2.83" fill="#ff5300"/>
<rect x="352.28" y="342.08" width="14.24" height="2.83" fill="#ff6000"/>
<rect x="295.30" y="347.74" width="14.24" height="2.83" fill="#529e86"/>
<rect x="409.26" y="347.74" width="14.24" height="2.83" fill="#c2dd30"/>
<rect x="352.28" y="347.74" width="14.24" height="2.83" fill="#ff3a00"/>
<rect x="352.28" y="353.39" width="14.24" height="2.83" fill="#ff4a00"/>
<rect x="295.30" y="359.05" width="14.24" height="2.83" fill="#5ca47f"/>
<rect x="409.26" y="359.05" width="14.24" height="2.83" fill="#c4de2e"/>
<rect x="352.28" y="359.05" width="14.24" height="2.83" fill="#ff2800"/>
<rect x="352.28" y="364.71" width="14.24" height="2.83" fill="#ff3900"/>
<rect x="295.30" y="370.37" width="14.24" height="2.83" fill="#67aa77"/>
<rect x="409.26" y="370.37" width="14.24" height="2.83" fill="#c7df2c"/>
<rect x="352.28" y="370.37" width="14.24" height="2.83" fill="#ff1700"/>
<rect x="352.28" y="376.03" width="14.24" height="2.83" fill="#ff2800"/>
<rect x="295.30" y="381.69" width="14.24" height="2.83" fill="#71af6e"/>
<rect x="409.26" y="381.69" width="14.24" height="2.83" fill="#c9e12a"/>
<rect x="352.28" y="381.69" width="14.24" height="2.83" fill="#ff0500"/>
<rect x="352.28" y="387.34" width="14.24" height="2.83" fill="#ff1600"/>
<rect x="295.30" y="393.00" width="14.24" height="2.83" fill="#7bb566"/>
<rect x="409.26" y="393.00" width="14.24" height="2.83" fill="#cbe228"/>
<rect x="352.28" y="393.00" width="14.24" height="2.83" fill="#ff0000"/>
<rect x="352.28" y="398.66" width="14.24" height="2.83" fill="#ff0500"/>
<rect x="295.30" y="404.32" width="14.24" height="2.83" fill="#86bb5e"/>
<rect x="409.26" y="404.32" width="14.24" height="2.83" fill="#c7e02b"/>
<rect x="352.28" y="404.32" width="14.24" height="2.83" fill="#ff0000"/>
<rect x="352.28" y="409.98" width="14.24" height="2.83" fill="#ff0400"/>
<rect x="295.30" y="415.64" width="14.24" height="2.83" fill="#90c157"/>
<rect x="409.26" y="415.64" width="14.24" height="2.83" fill="#bdda33"/>
<rect x="352.28" y="415.64" width="14.24" height="2.83" fill="#ff0000"/>
<rect x="352.28" y="421.30" width="14.24" height="2.83" fill="#ff0300"/>
<rect x="295.30" y="426.95" width="14.24" height="2.83" fill="#9ac64f"/>
<rect x="409.26" y="426.95" width="14.24" height="2.83" fill="#b3d43b"/>
<rect x="352.28" y="426.95" width="14.24" height="2.83" fill="#ff0000"/>
<rect x="352.28" y="432.61" width="14.24" height="2.83" fill="#ff0100"/>
<rect x="295.30" y="438.27" width="14.24" height="2.83" fill="#a4cc47"/>
<rect x="409.26" y="438.27" width="14.24" height="2.83" fill="#a9cf43"/>
<rect x="352.28" y="438.27" width="14.24" height="2.83" fill="#ff0000"/>
<rect x="352.28" y="443.93" width="14.24" height="2.83" fill="#ff0000"/>
<rect x="295.30" y="449.59" width="14.24" height="2.83" fill="#b2d43c"/>
<rect x="409.26" y="449.59" width="14.24" height="2.83" fill="#a1ca49"/>
<rect x="352.28" y="449.59" width="14.24" height="2.83" fill="#ff0000"/>
<rect x="352.28" y="455.25" width="14.24" height="2.83" fill="#ff0000"/>
<rect x="295.30" y="460.90" width="14.24" height="2.83" fill="#c3dd2f"/>
<rect x="409.26" y="460.90" width="14.24" height="2.83" fill="#56a083"/>
<rect x="352.28" y="460.90" width="14.24" height="2.83" fill="#ff0000"/>
<rect x="352.28" y="466.56" width="14.24" height="2.83" fill="#ff0000"/>
<rect x="295.30" y="472.22" width="14.24" height="2.83" fill="#9ec84c"/>
<rect x="352.28" y="472.22" width="14.24" height="2.83" fill="#ff4200"/>
<rect x="352.28" y="477.88" width="14.24" height="2.83" fill="#edf50e"/>
<rect x="295.30" y="483.54" width="14.24" height="2.83" fill="#0f78bb"/>
<rect x="294.9" y="41.9" width="128.8" height="11.0" fill="#f0f0f0"/>
<rect x="295.3" y="52.6" width="128.2" height="0.9" fill="#fbf7f4"/>
<path d="M294.9 53.6V41.9H423.7V53.3" fill="none" stroke="#000" stroke-width="1.3"/>
<rect x="441.30" y="53.00" width="9.37" height="455.00" fill="url(#g4_0)"/>
<rect x="449.87" y="53.00" width="9.37" height="455.00" fill="url(#g4_1)"/>
<rect x="458.44" y="53.00" width="9.37" height="455.00" fill="url(#g4_2)"/>
<rect x="467.01" y="53.00" width="9.37" height="455.00" fill="url(#g4_3)"/>
<rect x="475.58" y="53.00" width="9.37" height="455.00" fill="url(#g4_4)"/>
<rect x="484.15" y="53.00" width="9.37" height="455.00" fill="url(#g4_5)"/>
<rect x="492.72" y="53.00" width="9.37" height="455.00" fill="url(#g4_6)"/>
<rect x="501.29" y="53.00" width="9.37" height="455.00" fill="url(#g4_7)"/>
<rect x="509.86" y="53.00" width="9.37" height="455.00" fill="url(#g4_8)"/>
<rect x="518.44" y="53.00" width="9.37" height="455.00" fill="url(#g4_9)"/>
<rect x="527.01" y="53.00" width="9.37" height="455.00" fill="url(#g4_10)"/>
<rect x="535.58" y="53.00" width="9.37" height="455.00" fill="url(#g4_11)"/>
<rect x="544.15" y="53.00" width="9.37" height="455.00" fill="url(#g4_12)"/>
<rect x="552.72" y="53.00" width="9.37" height="455.00" fill="url(#g4_13)"/>
<rect x="561.29" y="53.00" width="9.37" height="455.00" fill="url(#g4_14)"/>
<rect x="569.86" y="53.00" width="9.37" height="455.00" fill="url(#g4_15)"/>
<rect x="578.43" y="53.00" width="8.57" height="455.00" fill="url(#g4_16)"/>
<rect x="509.86" y="177.74" width="8.57" height="1.42" fill="#61a67b"/>
<rect x="509.86" y="183.40" width="8.57" height="1.42" fill="#67aa77"/>
<rect x="441.30" y="189.07" width="8.57" height="1.42" fill="#3d9297"/>
<rect x="509.86" y="189.07" width="8.57" height="1.42" fill="#6fae70"/>
<rect x="501.29" y="189.07" width="8.57" height="1.42" fill="#68aa76"/>
<rect x="518.44" y="189.07" width="8.57" height="1.42" fill="#68aa76"/>
<rect x="509.86" y="194.74" width="8.57" height="1.42" fill="#75b16c"/>
<rect x="441.30" y="200.41" width="8.57" height="1.42" fill="#3d9297"/>
<rect x="509.86" y="200.41" width="8.57" height="1.42" fill="#80b863"/>
<rect x="501.29" y="200.41" width="8.57" height="1.42" fill="#76b26a"/>
<rect x="518.44" y="200.41" width="8.57" height="1.42" fill="#76b26a"/>
<rect x="509.86" y="206.08" width="8.57" height="1.42" fill="#84ba60"/>
<rect x="441.30" y="211.75" width="8.57" height="1.42" fill="#3c9198"/>
<rect x="449.87" y="211.75" width="8.57" height="1.42" fill="#4f9c89"/>
<rect x="578.43" y="211.75" width="8.57" height="1.42" fill="#56a083"/>
<rect x="509.86" y="211.75" width="8.57" height="1.42" fill="#91c156"/>
<rect x="501.29" y="211.75" width="8.57" height="1.42" fill="#85ba5f"/>
<rect x="518.44" y="211.75" width="8.57" height="1.42" fill="#85ba5f"/>
<rect x="509.86" y="217.42" width="8.57" height="1.42" fill="#94c353"/>
<rect x="441.30" y="223.09" width="8.57" height="1.42" fill="#3a909a"/>
<rect x="449.87" y="223.09" width="8.57" height="1.42" fill="#549f85"/>
<rect x="578.43" y="223.09" width="8.57" height="1.42" fill="#5ba380"/>
<rect x="509.86" y="223.09" width="8.57" height="1.42" fill="#a2cb48"/>
<rect x="501.29" y="223.09" width="8.57" height="1.42" fill="#93c354"/>
<rect x="518.44" y="223.09" width="8.57" height="1.42" fill="#93c354"/>
<rect x="509.86" y="228.76" width="8.57" height="1.42" fill="#a4cc47"/>
<rect x="441.30" y="234.43" width="8.57" height="1.42" fill="#388f9b"/>
<rect x="449.87" y="234.43" width="8.57" height="1.42" fill="#5aa281"/>
<rect x="578.43" y="234.43" width="8.57" height="1.42" fill="#64a878"/>
<rect x="509.86" y="234.43" width="8.57" height="1.42" fill="#b9d837"/>
<rect x="501.29" y="234.43" width="8.57" height="1.42" fill="#a7ce44"/>
<rect x="518.44" y="234.43" width="8.57" height="1.42" fill="#a8ce44"/>
<rect x="509.86" y="240.10" width="8.57" height="1.42" fill="#beda33"/>
<rect x="441.30" y="245.77" width="8.57" height="1.42" fill="#368e9d"/>
<rect x="449.87" y="245.77" width="8.57" height="1.42" fill="#62a77a"/>
<rect x="578.43" y="245.77" width="8.57" height="1.42" fill="#75b16c"/>
<rect x="509.86" y="245.77" width="8.57" height="1.42" fill="#d5e721"/>
<rect x="501.29" y="245.77" width="8.57" height="1.42" fill="#c0dc31"/>
<rect x="518.44" y="245.77" width="8.57" height="1.42" fill="#c2dd2f"/>
<rect x="441.30" y="251.44" width="8.57" height="1.42" fill="#60a67c"/>
<rect x="509.86" y="251.44" width="8.57" height="1.42" fill="#d7e91f"/>
<rect x="441.30" y="257.11" width="8.57" height="1.42" fill="#328ca0"/>
<rect x="449.87" y="257.11" width="8.57" height="1.42" fill="#69ab75"/>
<rect x="578.43" y="257.11" width="8.57" height="1.42" fill="#7fb764"/>
<rect x="509.86" y="257.11" width="8.57" height="1.42" fill="#edf50e"/>
<rect x="501.29" y="257.11" width="8.57" height="1.42" fill="#d5e821"/>
<rect x="518.44" y="257.11" width="8.57" height="1.42" fill="#d8e91f"/>
<rect x="441.30" y="262.78" width="8.57" height="1.42" fill="#64a879"/>
<rect x="509.86" y="262.78" width="8.57" height="1.42" fill="#ecf40f"/>
<rect x="441.30" y="268.45" width="8.57" height="1.42" fill="#318ba0"/>
<rect x="449.87" y="268.45" width="8.57" height="1.42" fill="#6eae71"/>
<rect x="578.43" y="268.45" width="8.57" height="1.42" fill="#87bb5e"/>
<rect x="509.86" y="268.45" width="8.57" height="1.42" fill="#fffc00"/>
<rect x="501.29" y="268.45" width="8.57" height="1.42" fill="#e8f212"/>
<rect x="518.44" y="268.45" width="8.57" height="1.42" fill="#ebf410"/>
<rect x="441.30" y="274.12" width="8.57" height="1.42" fill="#68aa76"/>
<rect x="509.86" y="274.12" width="8.57" height="1.42" fill="#fffe00"/>
<rect x="441.30" y="279.79" width="8.57" height="1.42" fill="#308ba1"/>
<rect x="449.87" y="279.79" width="8.57" height="1.42" fill="#74b16c"/>
<rect x="578.43" y="279.79" width="8.57" height="1.42" fill="#8ec058"/>
<rect x="509.86" y="279.79" width="8.57" height="1.42" fill="#ffe600"/>
<rect x="501.29" y="279.79" width="8.57" height="1.42" fill="#fbfd03"/>
<rect x="518.44" y="279.79" width="8.57" height="1.42" fill="#fefe01"/>
<rect x="441.30" y="285.46" width="8.57" height="1.42" fill="#6cad72"/>
<rect x="509.86" y="285.46" width="8.57" height="1.42" fill="#ffe600"/>
<rect x="441.30" y="291.13" width="8.57" height="1.42" fill="#308ba1"/>
<rect x="449.87" y="291.13" width="8.57" height="1.42" fill="#7cb566"/>
<rect x="578.43" y="291.13" width="8.57" height="1.42" fill="#95c353"/>
<rect x="509.86" y="291.13" width="8.57" height="1.42" fill="#ffc800"/>
<rect x="501.29" y="291.13" width="8.57" height="1.42" fill="#ffe900"/>
<rect x="518.44" y="291.13" width="8.57" height="1.42" fill="#ffe600"/>
<rect x="441.30" y="296.80" width="8.57" height="1.42" fill="#71af6f"/>
<rect x="509.86" y="296.80" width="8.57" height="1.42" fill="#ffca00"/>
<rect x="441.30" y="302.47" width="8.57" height="1.42" fill="#368e9c"/>
<rect x="449.87" y="302.47" width="8.57" height="1.42" fill="#84ba60"/>
<rect x="578.43" y="302.47" width="8.57" height="1.42" fill="#9bc74e"/>
<rect x="509.86" y="302.47" width="8.57" height="1.42" fill="#ffab00"/>
<rect x="501.29" y="302.47" width="8.57" height="1.42" fill="#ffcf00"/>
<rect x="518.44" y="302.47" width="8.57" height="1.42" fill="#ffcd00"/>
<rect x="441.30" y="308.14" width="8.57" height="1.42" fill="#75b26b"/>
<rect x="509.86" y="308.14" width="8.57" height="1.42" fill="#ffae00"/>
<rect x="441.30" y="313.81" width="8.57" height="1.42" fill="#3e9396"/>
<rect x="449.87" y="313.81" width="8.57" height="1.42" fill="#8cbf59"/>
<rect x="578.43" y="313.81" width="8.57" height="1.42" fill="#a3cb48"/>
<rect x="509.86" y="313.81" width="8.57" height="1.42" fill="#ff9200"/>
<rect x="501.29" y="313.81" width="8.57" height="1.42" fill="#ffba00"/>
<rect x="518.44" y="313.81" width="8.57" height="1.42" fill="#ffb700"/>
<rect x="441.30" y="319.48" width="8.57" height="1.42" fill="#79b468"/>
<rect x="509.86" y="319.48" width="8.57" height="1.42" fill="#ff9900"/>
<rect x="441.30" y="325.15" width="8.57" height="1.42" fill="#459791"/>
<rect x="449.87" y="325.15" width="8.57" height="1.42" fill="#93c354"/>
<rect x="578.43" y="325.15" width="8.57" height="1.42" fill="#aed13f"/>
<rect x="509.86" y="325.15" width="8.57" height="1.42" fill="#ff7c00"/>
<rect x="501.29" y="325.15" width="8.57" height="1.42" fill="#ffa900"/>
<rect x="518.44" y="325.15" width="8.57" height="1.42" fill="#ffa400"/>
<rect x="441.30" y="330.82" width="8.57" height="1.42" fill="#80b863"/>
<rect x="509.86" y="330.82" width="8.57" height="1.42" fill="#ff8300"/>
<rect x="441.30" y="336.49" width="8.57" height="1.42" fill="#4c9b8b"/>
<rect x="449.87" y="336.49" width="8.57" height="1.42" fill="#9bc74e"/>
<rect x="578.43" y="336.49" width="8.57" height="1.42" fill="#bad836"/>
<rect x="509.86" y="336.49" width="8.57" height="1.42" fill="#ff6600"/>
<rect x="501.29" y="336.49" width="8.57" height="1.42" fill="#ff9800"/>
<rect x="518.44" y="336.49" width="8.57" height="1.42" fill="#ff9100"/>
<rect x="441.30" y="342.16" width="8.57" height="1.42" fill="#88bc5d"/>
<rect x="509.86" y="342.16" width="8.57" height="1.42" fill="#ff6e00"/>
<rect x="441.30" y="347.83" width="8.57" height="1.42" fill="#559f85"/>
<rect x="449.87" y="347.83" width="8.57" height="1.42" fill="#a4cc47"/>
<rect x="578.43" y="347.83" width="8.57" height="1.42" fill="#c2dd2f"/>
<rect x="509.86" y="347.83" width="8.57" height="1.42" fill="#ff5300"/>
<rect x="501.29" y="347.83" width="8.57" height="1.42" fill="#ff8700"/>
<rect x="518.44" y="347.83" width="8.57" height="1.42" fill="#ff7e00"/>
<rect x="441.30" y="353.50" width="8.57" height="1.42" fill="#91c156"/>
<rect x="509.86" y="353.50" width="8.57" height="1.42" fill="#ff5c00"/>
<rect x="441.30" y="359.17" width="8.57" height="1.42" fill="#5ea57d"/>
<rect x="449.87" y="359.17" width="8.57" height="1.42" fill="#aed23f"/>
<rect x="578.43" y="359.17" width="8.57" height="1.42" fill="#c9e12a"/>
<rect x="509.86" y="359.17" width="8.57" height="1.42" fill="#ff4000"/>
<rect x="501.29" y="359.17" width="8.57" height="1.42" fill="#ff7500"/>
<rect x="518.44" y="359.17" width="8.57" height="1.42" fill="#ff6c00"/>
<rect x="441.30" y="364.84" width="8.57" height="1.42" fill="#9ac64f"/>
<rect x="509.86" y="364.84" width="8.57" height="1.42" fill="#ff4900"/>
<rect x="441.30" y="370.51" width="8.57" height="1.42" fill="#66a977"/>
<rect x="449.87" y="370.51" width="8.57" height="1.42" fill="#b8d737"/>
<rect x="578.43" y="370.51" width="8.57" height="1.42" fill="#cce327"/>
<rect x="509.86" y="370.51" width="8.57" height="1.42" fill="#ff2f00"/>
<rect x="501.29" y="370.51" width="8.57" height="1.42" fill="#ff6500"/>
<rect x="518.44" y="370.51" width="8.57" height="1.42" fill="#ff5c00"/>
<rect x="441.30" y="376.18" width="8.57" height="1.42" fill="#a1ca49"/>
<rect x="509.86" y="376.18" width="8.57" height="1.42" fill="#ff3900"/>
<rect x="441.30" y="381.85" width="8.57" height="1.42" fill="#6dad72"/>
<rect x="449.87" y="381.85" width="8.57" height="1.42" fill="#c1dc30"/>
<rect x="578.43" y="381.85" width="8.57" height="1.42" fill="#cce327"/>
<rect x="509.86" y="381.85" width="8.57" height="1.42" fill="#ff1f00"/>
<rect x="501.29" y="381.85" width="8.57" height="1.42" fill="#ff5600"/>
<rect x="518.44" y="381.85" width="8.57" height="1.42" fill="#ff4e00"/>
<rect x="441.30" y="387.52" width="8.57" height="1.42" fill="#a8ce44"/>
<rect x="509.86" y="387.52" width="8.57" height="1.42" fill="#ff2900"/>
<rect x="441.30" y="393.19" width="8.57" height="1.42" fill="#77b36a"/>
<rect x="449.87" y="393.19" width="8.57" height="1.42" fill="#cce228"/>
<rect x="578.43" y="393.19" width="8.57" height="1.42" fill="#cae129"/>
<rect x="509.86" y="393.19" width="8.57" height="1.42" fill="#ff1200"/>
<rect x="501.29" y="393.19" width="8.57" height="1.42" fill="#ff4900"/>
<rect x="518.44" y="393.19" width="8.57" height="1.42" fill="#ff4200"/>
<rect x="441.30" y="398.86" width="8.57" height="1.42" fill="#b7d638"/>
<rect x="509.86" y="398.86" width="8.57" height="1.42" fill="#ff2000"/>
<rect x="441.30" y="404.53" width="8.57" height="1.42" fill="#87bc5e"/>
<rect x="449.87" y="404.53" width="8.57" height="1.42" fill="#daea1d"/>
<rect x="578.43" y="404.53" width="8.57" height="1.42" fill="#c3dd2f"/>
<rect x="509.86" y="404.53" width="8.57" height="1.42" fill="#ff0b00"/>
<rect x="501.29" y="404.53" width="8.57" height="1.42" fill="#ff4000"/>
<rect x="518.44" y="404.53" width="8.57" height="1.42" fill="#ff3a00"/>
<rect x="441.30" y="410.20" width="8.57" height="1.42" fill="#c7df2c"/>
<rect x="509.86" y="410.20" width="8.57" height="1.42" fill="#ff1900"/>
<rect x="441.30" y="415.87" width="8.57" height="1.42" fill="#96c451"/>
<rect x="449.87" y="415.87" width="8.57" height="1.42" fill="#e7f212"/>
<rect x="578.43" y="415.87" width="8.57" height="1.42" fill="#bbd935"/>
<rect x="509.86" y="415.87" width="8.57" height="1.42" fill="#ff0400"/>
<rect x="501.29" y="415.87" width="8.57" height="1.42" fill="#ff3600"/>
<rect x="518.44" y="415.87" width="8.57" height="1.42" fill="#ff3200"/>
<rect x="441.30" y="421.54" width="8.57" height="1.42" fill="#d4e722"/>
<rect x="509.86" y="421.54" width="8.57" height="1.42" fill="#ff1100"/>
<rect x="441.30" y="427.21" width="8.57" height="1.42" fill="#a2cb49"/>
<rect x="449.87" y="427.21" width="8.57" height="1.42" fill="#f3f80a"/>
<rect x="578.43" y="427.21" width="8.57" height="1.42" fill="#abd041"/>
<rect x="509.86" y="427.21" width="8.57" height="1.42" fill="#ff0000"/>
<rect x="501.29" y="427.21" width="8.57" height="1.42" fill="#ff2b00"/>
<rect x="518.44" y="427.21" width="8.57" height="1.42" fill="#ff2b00"/>
<rect x="441.30" y="432.88" width="8.57" height="1.42" fill="#dfed19"/>
<rect x="509.86" y="432.88" width="8.57" height="1.42" fill="#ff0800"/>
<rect x="441.30" y="438.55" width="8.57" height="1.42" fill="#add140"/>
<rect x="449.87" y="438.55" width="8.57" height="1.42" fill="#feff01"/>
<rect x="578.43" y="438.55" width="8.57" height="1.42" fill="#9bc74e"/>
<rect x="509.86" y="438.55" width="8.57" height="1.42" fill="#ff0000"/>
<rect x="501.29" y="438.55" width="8.57" height="1.42" fill="#ff1f00"/>
<rect x="518.44" y="438.55" width="8.57" height="1.42" fill="#ff2400"/>
<rect x="441.30" y="444.21" width="8.57" height="1.42" fill="#eef50d"/>
<rect x="509.86" y="444.21" width="8.57" height="1.42" fill="#ff0900"/>
<rect x="441.30" y="449.88" width="8.57" height="1.42" fill="#bfdb32"/>
<rect x="449.87" y="449.88" width="8.57" height="1.42" fill="#fff400"/>
<rect x="578.43" y="449.88" width="8.57" height="1.42" fill="#8fc057"/>
<rect x="509.86" y="449.88" width="8.57" height="1.42" fill="#ff0000"/>
<rect x="501.29" y="449.88" width="8.57" height="1.42" fill="#ff2900"/>
<rect x="518.44" y="449.88" width="8.57" height="1.42" fill="#ff3500"/>
<rect x="441.30" y="455.55" width="8.57" height="1.42" fill="#fffe00"/>
<rect x="509.86" y="455.55" width="8.57" height="1.42" fill="#ff1600"/>
<rect x="441.30" y="461.22" width="8.57" height="1.42" fill="#d2e523"/>
<rect x="449.87" y="461.22" width="8.57" height="1.42" fill="#ffe900"/>
<rect x="578.43" y="461.22" width="8.57" height="1.42" fill="#39909a"/>
<rect x="509.86" y="461.22" width="8.57" height="1.42" fill="#ff0c00"/>
<rect x="501.29" y="461.22" width="8.57" height="1.42" fill="#ff3500"/>
<rect x="518.44" y="461.22" width="8.57" height="1.42" fill="#ff4700"/>
<rect x="441.30" y="466.89" width="8.57" height="1.42" fill="#fff000"/>
<rect x="509.86" y="466.89" width="8.57" height="1.42" fill="#ff2100"/>
<rect x="441.30" y="472.56" width="8.57" height="1.42" fill="#add140"/>
<rect x="449.87" y="472.56" width="8.57" height="1.42" fill="#f2f80a"/>
<rect x="509.86" y="472.56" width="8.57" height="1.42" fill="#ff3f00"/>
<rect x="501.29" y="472.56" width="8.57" height="1.42" fill="#ff6200"/>
<rect x="518.44" y="472.56" width="8.57" height="1.42" fill="#ff9f00"/>
<rect x="441.30" y="478.23" width="8.57" height="1.42" fill="#9bc74e"/>
<rect x="509.86" y="478.23" width="8.57" height="1.42" fill="#fff400"/>
<rect x="441.30" y="483.90" width="8.57" height="1.42" fill="#157cb6"/>
<rect x="449.87" y="483.90" width="8.57" height="1.42" fill="#4c9a8b"/>
<rect x="509.86" y="483.90" width="8.57" height="1.42" fill="#3f9396"/>
<rect x="501.29" y="483.90" width="8.57" height="1.42" fill="#539f86"/>
<rect x="441.0" y="41.9" width="146.2" height="11.0" fill="#f0f0f0"/>
<rect x="441.3" y="52.6" width="145.7" height="0.9" fill="#fbf7f4"/>
<path d="M441.0 53.6V41.9H587.2V53.3" fill="none" stroke="#000" stroke-width="1.3"/>
</g>
<text x="76.8" y="51.6" class="h">Temperature</text>
<text x="215.3" y="51.6" class="h">Temperature</text>
<text x="359.4" y="51.6" class="h">Temperature</text>
<text x="514.2" y="51.6" class="h">Temperature</text>
<text x="76.5" y="33.6" class="t">3 x 40</text>
<text x="216.0" y="33.6" class="t">5 x 81</text>
<text x="364.3" y="33.6" class="t">9 x 161</text>
<text x="516.9" y="33.6" class="t">17 x 321</text>
</svg>
</body></html>
